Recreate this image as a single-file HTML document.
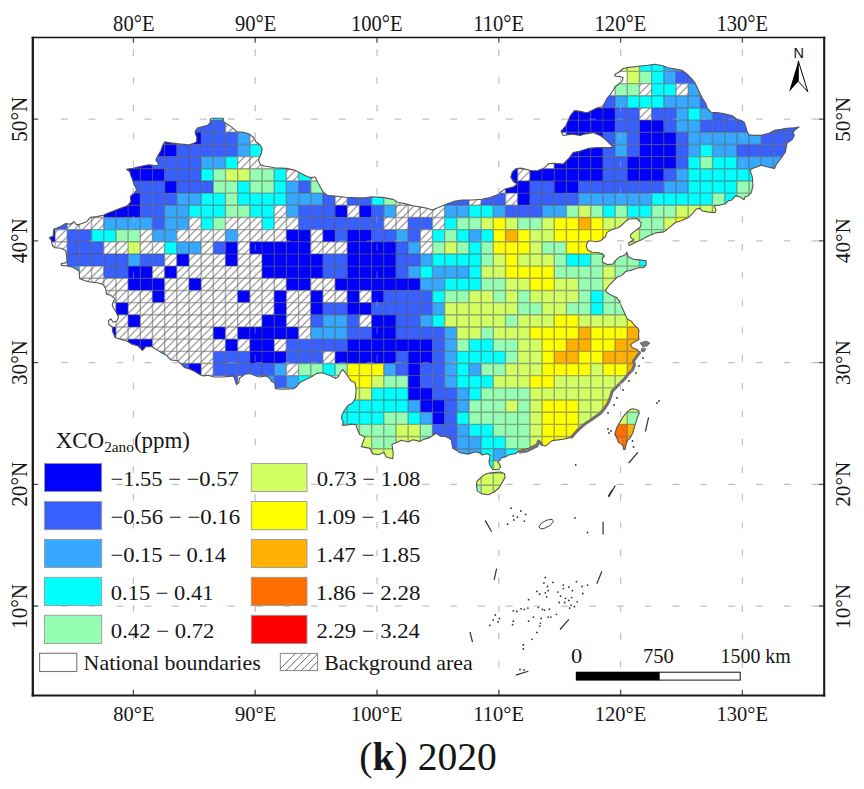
<!DOCTYPE html>
<html><head><meta charset="utf-8"><style>
html,body{margin:0;padding:0;background:#fff;overflow:hidden;}
svg{display:block;}
text{font-family:"Liberation Serif",serif;fill:#161616;}
</style></head><body>
<svg width="864" height="789" viewBox="0 0 864 789">
<defs>
<pattern id="hatch" patternUnits="userSpaceOnUse" width="8.1" height="8.1" patternTransform="translate(4.3 0)">
<rect width="8.1" height="8.1" fill="#fff"/>
<path d="M-2 2L2 -2M0 8.1L8.1 0M6.1 10.1L10.1 6.1" stroke="#7a7a7a" stroke-width="1.0"/>
</pattern>
<clipPath id="cn"><path d="M49.3 237.5 L53.1 236.3 L53.7 229.3 L60.1 226.8 L65.8 223.6 L70.2 224.2 L74.0 221.7 L76.6 224.9 L80.4 224.0 L86.7 221.7 L90.5 217.2 L96.8 216.6 L103.2 215.3 L107.0 213.4 L117.1 209.6 L127.3 205.8 L130.9 201.6 L130.4 196.7 L132.9 193.7 L136.4 190.7 L135.9 187.7 L133.9 184.7 L132.9 180.7 L130.9 175.8 L129.9 171.8 L126.4 169.3 L132.9 168.3 L138.9 166.8 L148.8 164.8 L156.8 165.8 L158.8 164.3 L155.8 159.9 L157.8 155.9 L160.8 150.9 L162.8 144.9 L164.8 141.9 L170.7 142.9 L178.7 143.9 L188.6 144.9 L193.7 143.3 L196.5 141.9 L196.9 137.8 L195.6 134.1 L195.1 131.3 L197.4 128.1 L202.0 126.7 L207.6 125.3 L209.9 123.0 L210.4 119.3 L211.3 118.3 L223.3 118.3 L223.8 122.0 L227.0 123.9 L231.7 127.1 L237.2 131.8 L243.7 132.2 L249.3 134.1 L253.9 137.8 L255.7 141.5 L260.4 145.2 L262.2 148.9 L261.3 153.5 L258.5 160.0 L260.4 164.6 L264.1 166.0 L274.7 167.8 L286.3 168.4 L294.4 170.1 L300.2 173.0 L307.1 176.5 L310.6 177.6 L315.2 177.0 L317.5 181.7 L319.9 186.3 L323.3 192.1 L328.0 195.6 L334.9 196.1 L345.8 197.2 L357.2 197.9 L365.7 197.9 L371.1 196.7 L382.2 197.4 L393.3 199.4 L397.5 202.2 L404.4 203.6 L412.8 205.7 L421.1 207.1 L428.1 208.5 L432.2 209.9 L437.8 207.8 L446.1 204.3 L453.9 201.4 L462.2 200.0 L471.9 200.0 L481.7 199.3 L488.6 197.9 L496.9 195.1 L501.1 191.7 L505.3 188.9 L513.6 186.8 L517.1 184.0 L513.6 181.9 L510.8 177.1 L512.2 172.2 L515.7 168.8 L520.6 168.1 L526.1 169.4 L531.7 170.8 L537.2 170.8 L544.2 168.1 L548.3 163.9 L553.9 163.2 L563.2 164.0 L568.9 158.3 L573.1 152.6 L580.3 151.1 L588.8 148.3 L597.3 147.6 L610.1 147.6 L613.0 146.9 L610.1 144.0 L605.9 139.8 L600.2 135.5 L593.1 132.6 L584.5 134.1 L580.3 135.5 L571.7 134.1 L563.2 135.5 L561.0 131.2 L566.0 125.5 L570.3 115.6 L574.6 110.6 L580.3 111.3 L585.9 112.7 L588.8 112.0 L597.3 107.7 L602.3 106.7 L604.6 103.2 L606.9 98.6 L611.6 92.8 L615.0 87.0 L622.0 81.3 L623.1 77.8 L619.7 76.6 L615.0 76.0 L615.0 74.3 L619.1 72.0 L623.1 68.5 L628.9 67.4 L638.2 66.2 L647.6 65.2 L655.3 64.2 L662.9 65.8 L668.0 67.7 L675.6 69.0 L682.0 70.3 L687.1 74.1 L690.9 77.9 L694.7 82.4 L697.3 87.5 L699.8 93.2 L702.4 98.3 L705.6 103.4 L707.5 108.5 L711.3 112.3 L718.9 112.9 L726.6 114.2 L732.9 116.1 L736.8 119.3 L741.8 120.6 L744.1 122.2 L745.8 126.6 L746.9 131.0 L749.1 134.8 L753.5 135.4 L761.2 135.4 L768.9 133.2 L774.4 130.4 L781.0 129.3 L786.5 128.2 L794.2 127.7 L799.1 127.1 L796.4 128.8 L793.1 132.1 L794.2 135.4 L792.0 139.8 L787.0 143.1 L785.4 151.9 L781.0 158.5 L776.6 164.0 L774.4 168.4 L766.7 166.7 L761.2 165.1 L759.0 166.2 L752.4 168.4 L750.2 170.6 L752.4 177.2 L752.9 186.0 L751.3 192.6 L748.0 195.9 L744.7 197.0 L744.1 199.7 L740.3 197.0 L735.3 195.9 L731.5 200.3 L728.5 200.6 L725.4 203.8 L719.2 205.3 L714.0 205.8 L716.0 209.5 L715.0 212.6 L708.8 212.1 L702.5 211.0 L699.4 208.4 L696.3 209.0 L692.1 214.2 L687.9 217.8 L681.7 220.4 L675.4 222.5 L669.2 227.7 L664.0 231.9 L655.6 232.9 L648.3 236.0 L641.0 240.0 L636.7 241.7 L629.3 245.4 L628.3 243.1 L631.1 241.2 L633.9 239.8 L631.1 238.0 L630.2 235.2 L633.0 232.4 L636.7 229.6 L640.4 226.9 L641.3 223.1 L636.7 218.5 L629.3 219.0 L625.6 221.3 L621.9 225.0 L618.1 227.8 L611.7 229.6 L607.0 232.4 L605.2 237.0 L600.6 240.7 L595.9 241.7 L588.5 240.7 L586.2 245.4 L587.6 250.0 L592.2 252.3 L597.0 252.5 L602.6 253.9 L604.4 256.2 L602.1 259.0 L602.6 262.2 L607.2 264.5 L612.8 264.1 L615.6 260.4 L619.3 257.1 L623.0 255.7 L625.7 254.4 L626.7 252.0 L628.5 257.1 L634.1 259.4 L639.6 259.9 L646.1 260.8 L646.1 265.0 L643.3 267.8 L638.7 267.8 L633.1 269.6 L625.7 271.5 L622.0 275.2 L617.4 277.0 L614.6 279.8 L609.1 285.4 L605.4 290.5 L607.2 292.8 L611.9 295.6 L616.5 297.4 L619.3 301.1 L622.3 308.1 L627.4 319.3 L631.4 321.3 L633.5 324.3 L637.5 327.9 L639.0 330.4 L638.5 334.5 L639.0 339.6 L633.5 342.6 L630.4 344.6 L632.5 347.7 L637.5 349.7 L639.6 352.7 L636.5 356.8 L633.5 360.9 L634.5 364.9 L632.5 370.0 L628.2 374.2 L624.7 378.8 L620.2 383.3 L615.6 387.9 L612.2 391.3 L610.5 397.0 L608.8 401.6 L605.3 407.3 L600.8 413.0 L592.8 418.7 L586.0 423.2 L580.3 427.8 L577.2 430.8 L571.7 437.1 L563.3 439.2 L552.2 440.6 L545.3 446.1 L541.1 444.7 L538.3 440.6 L536.9 444.0 L528.6 448.2 L520.3 450.3 L515.4 453.6 L509.8 454.5 L505.2 456.9 L501.5 457.8 L500.6 459.6 L497.8 461.9 L499.6 464.3 L500.6 467.0 L498.7 469.4 L493.1 469.8 L491.3 467.5 L489.4 464.3 L489.0 460.6 L490.4 455.5 L486.7 453.6 L482.0 455.0 L480.2 453.1 L475.6 451.8 L468.1 454.1 L459.8 452.7 L456.1 449.9 L452.9 448.5 L451.9 443.9 L451.5 440.2 L448.7 437.9 L445.0 436.5 L440.6 436.2 L436.0 433.3 L430.2 437.4 L424.4 439.1 L419.8 441.4 L412.9 439.7 L408.2 442.0 L401.3 440.3 L395.5 443.1 L392.0 444.3 L393.2 453.6 L392.6 458.8 L386.3 457.0 L383.9 452.4 L378.1 454.7 L372.4 453.6 L370.0 448.4 L361.4 446.6 L363.1 442.0 L364.8 436.8 L359.6 434.5 L357.3 429.3 L356.1 424.7 L351.0 424.1 L346.0 425.3 L342.2 425.3 L343.4 422.2 L341.5 418.4 L342.2 414.6 L344.1 410.8 L346.0 408.2 L348.5 405.1 L352.3 403.2 L355.5 398.1 L356.1 389.2 L354.8 382.2 L351.0 381.0 L348.5 377.2 L345.3 372.7 L342.8 369.6 L340.9 371.5 L338.4 376.5 L335.8 378.4 L329.5 375.3 L321.9 372.7 L316.8 373.4 L313.0 375.9 L306.7 379.1 L300.3 382.2 L297.2 386.0 L294.0 388.6 L282.6 389.2 L275.3 388.6 L274.7 382.8 L271.8 381.7 L269.5 378.2 L266.0 375.9 L259.1 377.0 L249.8 373.6 L245.2 374.1 L239.4 378.2 L238.8 382.8 L236.5 384.6 L234.8 379.4 L233.6 375.9 L223.2 377.0 L213.9 377.0 L208.1 375.3 L203.5 375.9 L200.0 374.7 L194.3 371.3 L189.6 368.9 L185.0 367.8 L181.3 364.4 L177.5 360.6 L171.1 360.0 L166.0 354.9 L161.0 352.4 L155.9 349.2 L152.1 346.7 L145.8 346.7 L142.6 350.5 L138.2 346.0 L131.8 344.1 L126.8 341.0 L120.4 339.1 L115.3 337.8 L112.8 332.1 L112.2 327.0 L109.0 324.5 L108.4 320.7 L110.9 318.8 L112.8 322.0 L116.6 321.3 L118.5 317.5 L116.0 311.8 L113.4 308.0 L112.2 304.2 L113.4 301.7 L115.3 299.2 L110.9 295.3 L106.5 294.1 L105.8 289.0 L103.3 284.6 L97.6 282.7 L90.0 282.0 L86.7 281.3 L79.7 278.7 L79.1 271.1 L72.8 267.3 L67.1 266.0 L61.3 265.4 L61.3 263.5 L65.8 262.9 L67.1 261.0 L65.8 250.8 L61.3 248.3 L55.0 247.7 L52.5 245.8 L51.2 240.1Z M476.9 481.4 L482.0 476.3 L486.7 473.5 L493.1 472.6 L500.6 472.1 L504.3 473.5 L505.2 477.2 L502.4 481.9 L498.7 488.3 L494.1 492.0 L488.5 494.8 L482.0 493.9 L477.4 491.1 L476.5 485.6Z M633.5 408.7 L638.8 410.6 L639.2 413.3 L637.3 417.8 L635.0 425.4 L632.7 433.0 L630.4 437.6 L627.4 440.6 L625.9 445.2 L625.1 449.4 L623.6 449.4 L622.8 445.2 L618.3 442.1 L616.7 437.6 L614.8 434.5 L616.7 427.7 L619.8 422.4 L622.8 417.1 L627.4 411.7 L630.4 409.4Z"/></clipPath>
<clipPath id="ocn"><path clip-rule="evenodd" d="M0 0H864V789H0Z M49.3 237.5 L53.1 236.3 L53.7 229.3 L60.1 226.8 L65.8 223.6 L70.2 224.2 L74.0 221.7 L76.6 224.9 L80.4 224.0 L86.7 221.7 L90.5 217.2 L96.8 216.6 L103.2 215.3 L107.0 213.4 L117.1 209.6 L127.3 205.8 L130.9 201.6 L130.4 196.7 L132.9 193.7 L136.4 190.7 L135.9 187.7 L133.9 184.7 L132.9 180.7 L130.9 175.8 L129.9 171.8 L126.4 169.3 L132.9 168.3 L138.9 166.8 L148.8 164.8 L156.8 165.8 L158.8 164.3 L155.8 159.9 L157.8 155.9 L160.8 150.9 L162.8 144.9 L164.8 141.9 L170.7 142.9 L178.7 143.9 L188.6 144.9 L193.7 143.3 L196.5 141.9 L196.9 137.8 L195.6 134.1 L195.1 131.3 L197.4 128.1 L202.0 126.7 L207.6 125.3 L209.9 123.0 L210.4 119.3 L211.3 118.3 L223.3 118.3 L223.8 122.0 L227.0 123.9 L231.7 127.1 L237.2 131.8 L243.7 132.2 L249.3 134.1 L253.9 137.8 L255.7 141.5 L260.4 145.2 L262.2 148.9 L261.3 153.5 L258.5 160.0 L260.4 164.6 L264.1 166.0 L274.7 167.8 L286.3 168.4 L294.4 170.1 L300.2 173.0 L307.1 176.5 L310.6 177.6 L315.2 177.0 L317.5 181.7 L319.9 186.3 L323.3 192.1 L328.0 195.6 L334.9 196.1 L345.8 197.2 L357.2 197.9 L365.7 197.9 L371.1 196.7 L382.2 197.4 L393.3 199.4 L397.5 202.2 L404.4 203.6 L412.8 205.7 L421.1 207.1 L428.1 208.5 L432.2 209.9 L437.8 207.8 L446.1 204.3 L453.9 201.4 L462.2 200.0 L471.9 200.0 L481.7 199.3 L488.6 197.9 L496.9 195.1 L501.1 191.7 L505.3 188.9 L513.6 186.8 L517.1 184.0 L513.6 181.9 L510.8 177.1 L512.2 172.2 L515.7 168.8 L520.6 168.1 L526.1 169.4 L531.7 170.8 L537.2 170.8 L544.2 168.1 L548.3 163.9 L553.9 163.2 L563.2 164.0 L568.9 158.3 L573.1 152.6 L580.3 151.1 L588.8 148.3 L597.3 147.6 L610.1 147.6 L613.0 146.9 L610.1 144.0 L605.9 139.8 L600.2 135.5 L593.1 132.6 L584.5 134.1 L580.3 135.5 L571.7 134.1 L563.2 135.5 L561.0 131.2 L566.0 125.5 L570.3 115.6 L574.6 110.6 L580.3 111.3 L585.9 112.7 L588.8 112.0 L597.3 107.7 L602.3 106.7 L604.6 103.2 L606.9 98.6 L611.6 92.8 L615.0 87.0 L622.0 81.3 L623.1 77.8 L619.7 76.6 L615.0 76.0 L615.0 74.3 L619.1 72.0 L623.1 68.5 L628.9 67.4 L638.2 66.2 L647.6 65.2 L655.3 64.2 L662.9 65.8 L668.0 67.7 L675.6 69.0 L682.0 70.3 L687.1 74.1 L690.9 77.9 L694.7 82.4 L697.3 87.5 L699.8 93.2 L702.4 98.3 L705.6 103.4 L707.5 108.5 L711.3 112.3 L718.9 112.9 L726.6 114.2 L732.9 116.1 L736.8 119.3 L741.8 120.6 L744.1 122.2 L745.8 126.6 L746.9 131.0 L749.1 134.8 L753.5 135.4 L761.2 135.4 L768.9 133.2 L774.4 130.4 L781.0 129.3 L786.5 128.2 L794.2 127.7 L799.1 127.1 L796.4 128.8 L793.1 132.1 L794.2 135.4 L792.0 139.8 L787.0 143.1 L785.4 151.9 L781.0 158.5 L776.6 164.0 L774.4 168.4 L766.7 166.7 L761.2 165.1 L759.0 166.2 L752.4 168.4 L750.2 170.6 L752.4 177.2 L752.9 186.0 L751.3 192.6 L748.0 195.9 L744.7 197.0 L744.1 199.7 L740.3 197.0 L735.3 195.9 L731.5 200.3 L728.5 200.6 L725.4 203.8 L719.2 205.3 L714.0 205.8 L716.0 209.5 L715.0 212.6 L708.8 212.1 L702.5 211.0 L699.4 208.4 L696.3 209.0 L692.1 214.2 L687.9 217.8 L681.7 220.4 L675.4 222.5 L669.2 227.7 L664.0 231.9 L655.6 232.9 L648.3 236.0 L641.0 240.0 L636.7 241.7 L629.3 245.4 L628.3 243.1 L631.1 241.2 L633.9 239.8 L631.1 238.0 L630.2 235.2 L633.0 232.4 L636.7 229.6 L640.4 226.9 L641.3 223.1 L636.7 218.5 L629.3 219.0 L625.6 221.3 L621.9 225.0 L618.1 227.8 L611.7 229.6 L607.0 232.4 L605.2 237.0 L600.6 240.7 L595.9 241.7 L588.5 240.7 L586.2 245.4 L587.6 250.0 L592.2 252.3 L597.0 252.5 L602.6 253.9 L604.4 256.2 L602.1 259.0 L602.6 262.2 L607.2 264.5 L612.8 264.1 L615.6 260.4 L619.3 257.1 L623.0 255.7 L625.7 254.4 L626.7 252.0 L628.5 257.1 L634.1 259.4 L639.6 259.9 L646.1 260.8 L646.1 265.0 L643.3 267.8 L638.7 267.8 L633.1 269.6 L625.7 271.5 L622.0 275.2 L617.4 277.0 L614.6 279.8 L609.1 285.4 L605.4 290.5 L607.2 292.8 L611.9 295.6 L616.5 297.4 L619.3 301.1 L622.3 308.1 L627.4 319.3 L631.4 321.3 L633.5 324.3 L637.5 327.9 L639.0 330.4 L638.5 334.5 L639.0 339.6 L633.5 342.6 L630.4 344.6 L632.5 347.7 L637.5 349.7 L639.6 352.7 L636.5 356.8 L633.5 360.9 L634.5 364.9 L632.5 370.0 L628.2 374.2 L624.7 378.8 L620.2 383.3 L615.6 387.9 L612.2 391.3 L610.5 397.0 L608.8 401.6 L605.3 407.3 L600.8 413.0 L592.8 418.7 L586.0 423.2 L580.3 427.8 L577.2 430.8 L571.7 437.1 L563.3 439.2 L552.2 440.6 L545.3 446.1 L541.1 444.7 L538.3 440.6 L536.9 444.0 L528.6 448.2 L520.3 450.3 L515.4 453.6 L509.8 454.5 L505.2 456.9 L501.5 457.8 L500.6 459.6 L497.8 461.9 L499.6 464.3 L500.6 467.0 L498.7 469.4 L493.1 469.8 L491.3 467.5 L489.4 464.3 L489.0 460.6 L490.4 455.5 L486.7 453.6 L482.0 455.0 L480.2 453.1 L475.6 451.8 L468.1 454.1 L459.8 452.7 L456.1 449.9 L452.9 448.5 L451.9 443.9 L451.5 440.2 L448.7 437.9 L445.0 436.5 L440.6 436.2 L436.0 433.3 L430.2 437.4 L424.4 439.1 L419.8 441.4 L412.9 439.7 L408.2 442.0 L401.3 440.3 L395.5 443.1 L392.0 444.3 L393.2 453.6 L392.6 458.8 L386.3 457.0 L383.9 452.4 L378.1 454.7 L372.4 453.6 L370.0 448.4 L361.4 446.6 L363.1 442.0 L364.8 436.8 L359.6 434.5 L357.3 429.3 L356.1 424.7 L351.0 424.1 L346.0 425.3 L342.2 425.3 L343.4 422.2 L341.5 418.4 L342.2 414.6 L344.1 410.8 L346.0 408.2 L348.5 405.1 L352.3 403.2 L355.5 398.1 L356.1 389.2 L354.8 382.2 L351.0 381.0 L348.5 377.2 L345.3 372.7 L342.8 369.6 L340.9 371.5 L338.4 376.5 L335.8 378.4 L329.5 375.3 L321.9 372.7 L316.8 373.4 L313.0 375.9 L306.7 379.1 L300.3 382.2 L297.2 386.0 L294.0 388.6 L282.6 389.2 L275.3 388.6 L274.7 382.8 L271.8 381.7 L269.5 378.2 L266.0 375.9 L259.1 377.0 L249.8 373.6 L245.2 374.1 L239.4 378.2 L238.8 382.8 L236.5 384.6 L234.8 379.4 L233.6 375.9 L223.2 377.0 L213.9 377.0 L208.1 375.3 L203.5 375.9 L200.0 374.7 L194.3 371.3 L189.6 368.9 L185.0 367.8 L181.3 364.4 L177.5 360.6 L171.1 360.0 L166.0 354.9 L161.0 352.4 L155.9 349.2 L152.1 346.7 L145.8 346.7 L142.6 350.5 L138.2 346.0 L131.8 344.1 L126.8 341.0 L120.4 339.1 L115.3 337.8 L112.8 332.1 L112.2 327.0 L109.0 324.5 L108.4 320.7 L110.9 318.8 L112.8 322.0 L116.6 321.3 L118.5 317.5 L116.0 311.8 L113.4 308.0 L112.2 304.2 L113.4 301.7 L115.3 299.2 L110.9 295.3 L106.5 294.1 L105.8 289.0 L103.3 284.6 L97.6 282.7 L90.0 282.0 L86.7 281.3 L79.7 278.7 L79.1 271.1 L72.8 267.3 L67.1 266.0 L61.3 265.4 L61.3 263.5 L65.8 262.9 L67.1 261.0 L65.8 250.8 L61.3 248.3 L55.0 247.7 L52.5 245.8 L51.2 240.1Z M476.9 481.4 L482.0 476.3 L486.7 473.5 L493.1 472.6 L500.6 472.1 L504.3 473.5 L505.2 477.2 L502.4 481.9 L498.7 488.3 L494.1 492.0 L488.5 494.8 L482.0 493.9 L477.4 491.1 L476.5 485.6Z M633.5 408.7 L638.8 410.6 L639.2 413.3 L637.3 417.8 L635.0 425.4 L632.7 433.0 L630.4 437.6 L627.4 440.6 L625.9 445.2 L625.1 449.4 L623.6 449.4 L622.8 445.2 L618.3 442.1 L616.7 437.6 L614.8 434.5 L616.7 427.7 L619.8 422.4 L622.8 417.1 L627.4 411.7 L630.4 409.4Z"/></clipPath>
</defs>
<rect width="864" height="789" fill="#fff"/>
<g clip-path="url(#cn)">
<rect x="627.27" y="59.25" width="12.175" height="12.170" fill="#D2FF64"/><rect x="639.45" y="59.25" width="12.175" height="12.170" fill="#00FFFF"/><rect x="651.62" y="59.25" width="12.175" height="12.170" fill="#00FFFF"/><rect x="663.80" y="59.25" width="12.175" height="12.170" fill="#36A8FF"/><rect x="675.98" y="59.25" width="12.175" height="12.170" fill="#36A8FF"/><rect x="688.15" y="59.25" width="12.175" height="12.170" fill="#3860FF"/><rect x="615.10" y="59.25" width="12.175" height="12.170" fill="#D2FF64"/><rect x="627.27" y="71.42" width="12.175" height="12.170" fill="#D2FF64"/><rect x="639.45" y="71.42" width="12.175" height="12.170" fill="#95FEB3"/><rect x="651.62" y="71.42" width="12.175" height="12.170" fill="#00FFFF"/><rect x="663.80" y="71.42" width="12.175" height="12.170" fill="#36A8FF"/><rect x="675.98" y="71.42" width="12.175" height="12.170" fill="#3860FF"/><rect x="688.15" y="71.42" width="12.175" height="12.170" fill="#3860FF"/><rect x="615.10" y="83.59" width="12.175" height="12.170" fill="#95FEB3"/><rect x="627.27" y="83.59" width="12.175" height="12.170" fill="#95FEB3"/><rect x="639.45" y="83.59" width="12.175" height="12.170" fill="url(#hatch)"/><rect x="651.62" y="83.59" width="12.175" height="12.170" fill="#00FFFF"/><rect x="663.80" y="83.59" width="12.175" height="12.170" fill="#00FFFF"/><rect x="675.98" y="83.59" width="12.175" height="12.170" fill="url(#hatch)"/><rect x="688.15" y="83.59" width="12.175" height="12.170" fill="#36A8FF"/><rect x="602.93" y="95.76" width="12.175" height="12.170" fill="#3860FF"/><rect x="615.10" y="95.76" width="12.175" height="12.170" fill="#36A8FF"/><rect x="627.27" y="95.76" width="12.175" height="12.170" fill="#00FFFF"/><rect x="639.45" y="95.76" width="12.175" height="12.170" fill="#00FFFF"/><rect x="651.62" y="95.76" width="12.175" height="12.170" fill="#00FFFF"/><rect x="663.80" y="95.76" width="12.175" height="12.170" fill="#36A8FF"/><rect x="675.98" y="95.76" width="12.175" height="12.170" fill="#36A8FF"/><rect x="688.15" y="95.76" width="12.175" height="12.170" fill="#36A8FF"/><rect x="700.33" y="95.76" width="12.175" height="12.170" fill="#3860FF"/><rect x="213.32" y="107.93" width="12.175" height="12.170" fill="#00FFFF"/><rect x="566.40" y="107.93" width="12.175" height="12.170" fill="#0000FF"/><rect x="578.58" y="107.93" width="12.175" height="12.170" fill="#0000FF"/><rect x="590.75" y="107.93" width="12.175" height="12.170" fill="#0000FF"/><rect x="602.93" y="107.93" width="12.175" height="12.170" fill="#0000FF"/><rect x="615.10" y="107.93" width="12.175" height="12.170" fill="#3860FF"/><rect x="627.27" y="107.93" width="12.175" height="12.170" fill="#3860FF"/><rect x="639.45" y="107.93" width="12.175" height="12.170" fill="url(#hatch)"/><rect x="651.62" y="107.93" width="12.175" height="12.170" fill="#3860FF"/><rect x="663.80" y="107.93" width="12.175" height="12.170" fill="#3860FF"/><rect x="675.98" y="107.93" width="12.175" height="12.170" fill="#36A8FF"/><rect x="688.15" y="107.93" width="12.175" height="12.170" fill="#00FFFF"/><rect x="700.33" y="107.93" width="12.175" height="12.170" fill="#36A8FF"/><rect x="712.50" y="107.93" width="12.175" height="12.170" fill="#3860FF"/><rect x="724.68" y="107.93" width="12.175" height="12.170" fill="#3860FF"/><rect x="188.97" y="120.10" width="12.175" height="12.170" fill="#3860FF"/><rect x="201.15" y="120.10" width="12.175" height="12.170" fill="#3860FF"/><rect x="213.32" y="120.10" width="12.175" height="12.170" fill="#3860FF"/><rect x="225.50" y="120.10" width="12.175" height="12.170" fill="url(#hatch)"/><rect x="554.23" y="120.10" width="12.175" height="12.170" fill="#0000FF"/><rect x="566.40" y="120.10" width="12.175" height="12.170" fill="#0000FF"/><rect x="578.58" y="120.10" width="12.175" height="12.170" fill="#0000FF"/><rect x="590.75" y="120.10" width="12.175" height="12.170" fill="#0000FF"/><rect x="602.93" y="120.10" width="12.175" height="12.170" fill="#0000FF"/><rect x="615.10" y="120.10" width="12.175" height="12.170" fill="#3860FF"/><rect x="627.27" y="120.10" width="12.175" height="12.170" fill="#3860FF"/><rect x="639.45" y="120.10" width="12.175" height="12.170" fill="#0000FF"/><rect x="651.62" y="120.10" width="12.175" height="12.170" fill="#0000FF"/><rect x="663.80" y="120.10" width="12.175" height="12.170" fill="#3860FF"/><rect x="675.98" y="120.10" width="12.175" height="12.170" fill="#36A8FF"/><rect x="688.15" y="120.10" width="12.175" height="12.170" fill="#36A8FF"/><rect x="700.33" y="120.10" width="12.175" height="12.170" fill="#3860FF"/><rect x="712.50" y="120.10" width="12.175" height="12.170" fill="#3860FF"/><rect x="724.68" y="120.10" width="12.175" height="12.170" fill="#3860FF"/><rect x="736.85" y="120.10" width="12.175" height="12.170" fill="#3860FF"/><rect x="749.03" y="120.10" width="12.175" height="12.170" fill="#3860FF"/><rect x="761.20" y="120.10" width="12.175" height="12.170" fill="#3860FF"/><rect x="773.38" y="120.10" width="12.175" height="12.170" fill="#3860FF"/><rect x="785.55" y="120.10" width="12.175" height="12.170" fill="#3860FF"/><rect x="797.73" y="120.10" width="12.175" height="12.170" fill="#3860FF"/><rect x="188.97" y="132.27" width="12.175" height="12.170" fill="#0000FF"/><rect x="201.15" y="132.27" width="12.175" height="12.170" fill="#3860FF"/><rect x="213.32" y="132.27" width="12.175" height="12.170" fill="#3860FF"/><rect x="225.50" y="132.27" width="12.175" height="12.170" fill="#3860FF"/><rect x="237.68" y="132.27" width="12.175" height="12.170" fill="#36A8FF"/><rect x="249.85" y="132.27" width="12.175" height="12.170" fill="url(#hatch)"/><rect x="566.40" y="132.27" width="12.175" height="12.170" fill="#0000FF"/><rect x="578.58" y="132.27" width="12.175" height="12.170" fill="#0000FF"/><rect x="590.75" y="132.27" width="12.175" height="12.170" fill="#0000FF"/><rect x="602.93" y="132.27" width="12.175" height="12.170" fill="#3860FF"/><rect x="615.10" y="132.27" width="12.175" height="12.170" fill="#36A8FF"/><rect x="627.27" y="132.27" width="12.175" height="12.170" fill="#3860FF"/><rect x="639.45" y="132.27" width="12.175" height="12.170" fill="#0000FF"/><rect x="651.62" y="132.27" width="12.175" height="12.170" fill="#0000FF"/><rect x="663.80" y="132.27" width="12.175" height="12.170" fill="#0000FF"/><rect x="675.98" y="132.27" width="12.175" height="12.170" fill="#3860FF"/><rect x="688.15" y="132.27" width="12.175" height="12.170" fill="#36A8FF"/><rect x="700.33" y="132.27" width="12.175" height="12.170" fill="#36A8FF"/><rect x="712.50" y="132.27" width="12.175" height="12.170" fill="#36A8FF"/><rect x="724.68" y="132.27" width="12.175" height="12.170" fill="#36A8FF"/><rect x="736.85" y="132.27" width="12.175" height="12.170" fill="#36A8FF"/><rect x="749.03" y="132.27" width="12.175" height="12.170" fill="#36A8FF"/><rect x="761.20" y="132.27" width="12.175" height="12.170" fill="#3860FF"/><rect x="773.38" y="132.27" width="12.175" height="12.170" fill="#3860FF"/><rect x="785.55" y="132.27" width="12.175" height="12.170" fill="#3860FF"/><rect x="797.73" y="132.27" width="12.175" height="12.170" fill="#3860FF"/><rect x="164.62" y="132.27" width="12.175" height="12.170" fill="#0000FF"/><rect x="152.45" y="144.44" width="12.175" height="12.170" fill="#0000FF"/><rect x="164.62" y="144.44" width="12.175" height="12.170" fill="#0000FF"/><rect x="176.80" y="144.44" width="12.175" height="12.170" fill="#3860FF"/><rect x="188.97" y="144.44" width="12.175" height="12.170" fill="#3860FF"/><rect x="201.15" y="144.44" width="12.175" height="12.170" fill="#3860FF"/><rect x="213.32" y="144.44" width="12.175" height="12.170" fill="#3860FF"/><rect x="225.50" y="144.44" width="12.175" height="12.170" fill="#3860FF"/><rect x="237.68" y="144.44" width="12.175" height="12.170" fill="#36A8FF"/><rect x="249.85" y="144.44" width="12.175" height="12.170" fill="#00FFFF"/><rect x="566.40" y="144.44" width="12.175" height="12.170" fill="#0000FF"/><rect x="578.58" y="144.44" width="12.175" height="12.170" fill="#0000FF"/><rect x="590.75" y="144.44" width="12.175" height="12.170" fill="#0000FF"/><rect x="602.93" y="144.44" width="12.175" height="12.170" fill="#3860FF"/><rect x="615.10" y="144.44" width="12.175" height="12.170" fill="#36A8FF"/><rect x="627.27" y="144.44" width="12.175" height="12.170" fill="#3860FF"/><rect x="639.45" y="144.44" width="12.175" height="12.170" fill="#0000FF"/><rect x="651.62" y="144.44" width="12.175" height="12.170" fill="#0000FF"/><rect x="663.80" y="144.44" width="12.175" height="12.170" fill="#0000FF"/><rect x="675.98" y="144.44" width="12.175" height="12.170" fill="#3860FF"/><rect x="688.15" y="144.44" width="12.175" height="12.170" fill="#36A8FF"/><rect x="700.33" y="144.44" width="12.175" height="12.170" fill="#00FFFF"/><rect x="712.50" y="144.44" width="12.175" height="12.170" fill="#36A8FF"/><rect x="724.68" y="144.44" width="12.175" height="12.170" fill="#36A8FF"/><rect x="736.85" y="144.44" width="12.175" height="12.170" fill="#3860FF"/><rect x="749.03" y="144.44" width="12.175" height="12.170" fill="#3860FF"/><rect x="761.20" y="144.44" width="12.175" height="12.170" fill="#3860FF"/><rect x="773.38" y="144.44" width="12.175" height="12.170" fill="#3860FF"/><rect x="785.55" y="144.44" width="12.175" height="12.170" fill="#3860FF"/><rect x="152.45" y="156.61" width="12.175" height="12.170" fill="#3860FF"/><rect x="164.62" y="156.61" width="12.175" height="12.170" fill="#3860FF"/><rect x="176.80" y="156.61" width="12.175" height="12.170" fill="#3860FF"/><rect x="188.97" y="156.61" width="12.175" height="12.170" fill="#3860FF"/><rect x="201.15" y="156.61" width="12.175" height="12.170" fill="#36A8FF"/><rect x="213.32" y="156.61" width="12.175" height="12.170" fill="#36A8FF"/><rect x="225.50" y="156.61" width="12.175" height="12.170" fill="#00FFFF"/><rect x="237.68" y="156.61" width="12.175" height="12.170" fill="url(#hatch)"/><rect x="249.85" y="156.61" width="12.175" height="12.170" fill="url(#hatch)"/><rect x="554.23" y="156.61" width="12.175" height="12.170" fill="#0000FF"/><rect x="566.40" y="156.61" width="12.175" height="12.170" fill="#0000FF"/><rect x="578.58" y="156.61" width="12.175" height="12.170" fill="#0000FF"/><rect x="590.75" y="156.61" width="12.175" height="12.170" fill="#0000FF"/><rect x="602.93" y="156.61" width="12.175" height="12.170" fill="#3860FF"/><rect x="615.10" y="156.61" width="12.175" height="12.170" fill="#3860FF"/><rect x="627.27" y="156.61" width="12.175" height="12.170" fill="#0000FF"/><rect x="639.45" y="156.61" width="12.175" height="12.170" fill="#0000FF"/><rect x="651.62" y="156.61" width="12.175" height="12.170" fill="#0000FF"/><rect x="663.80" y="156.61" width="12.175" height="12.170" fill="#0000FF"/><rect x="675.98" y="156.61" width="12.175" height="12.170" fill="#3860FF"/><rect x="688.15" y="156.61" width="12.175" height="12.170" fill="#00FFFF"/><rect x="700.33" y="156.61" width="12.175" height="12.170" fill="#95FEB3"/><rect x="712.50" y="156.61" width="12.175" height="12.170" fill="#00FFFF"/><rect x="724.68" y="156.61" width="12.175" height="12.170" fill="#00FFFF"/><rect x="736.85" y="156.61" width="12.175" height="12.170" fill="#36A8FF"/><rect x="749.03" y="156.61" width="12.175" height="12.170" fill="#36A8FF"/><rect x="761.20" y="156.61" width="12.175" height="12.170" fill="#36A8FF"/><rect x="773.38" y="156.61" width="12.175" height="12.170" fill="#36A8FF"/><rect x="115.92" y="156.61" width="12.175" height="12.170" fill="#0000FF"/><rect x="128.10" y="156.61" width="12.175" height="12.170" fill="#0000FF"/><rect x="140.28" y="156.61" width="12.175" height="12.170" fill="#0000FF"/><rect x="115.92" y="168.78" width="12.175" height="12.170" fill="#0000FF"/><rect x="128.10" y="168.78" width="12.175" height="12.170" fill="#0000FF"/><rect x="140.28" y="168.78" width="12.175" height="12.170" fill="#0000FF"/><rect x="152.45" y="168.78" width="12.175" height="12.170" fill="#0000FF"/><rect x="164.62" y="168.78" width="12.175" height="12.170" fill="#3860FF"/><rect x="176.80" y="168.78" width="12.175" height="12.170" fill="#3860FF"/><rect x="188.97" y="168.78" width="12.175" height="12.170" fill="#3860FF"/><rect x="201.15" y="168.78" width="12.175" height="12.170" fill="#00FFFF"/><rect x="213.32" y="168.78" width="12.175" height="12.170" fill="#95FEB3"/><rect x="225.50" y="168.78" width="12.175" height="12.170" fill="#D2FF64"/><rect x="237.68" y="168.78" width="12.175" height="12.170" fill="#D2FF64"/><rect x="249.85" y="168.78" width="12.175" height="12.170" fill="#95FEB3"/><rect x="262.02" y="168.78" width="12.175" height="12.170" fill="#95FEB3"/><rect x="274.20" y="168.78" width="12.175" height="12.170" fill="#00FFFF"/><rect x="286.38" y="168.78" width="12.175" height="12.170" fill="url(#hatch)"/><rect x="298.55" y="168.78" width="12.175" height="12.170" fill="#00FFFF"/><rect x="310.73" y="168.78" width="12.175" height="12.170" fill="url(#hatch)"/><rect x="505.52" y="168.78" width="12.175" height="12.170" fill="#0000FF"/><rect x="517.70" y="168.78" width="12.175" height="12.170" fill="url(#hatch)"/><rect x="529.88" y="168.78" width="12.175" height="12.170" fill="#0000FF"/><rect x="542.05" y="168.78" width="12.175" height="12.170" fill="#0000FF"/><rect x="554.23" y="168.78" width="12.175" height="12.170" fill="#0000FF"/><rect x="566.40" y="168.78" width="12.175" height="12.170" fill="#0000FF"/><rect x="578.58" y="168.78" width="12.175" height="12.170" fill="#0000FF"/><rect x="590.75" y="168.78" width="12.175" height="12.170" fill="#0000FF"/><rect x="602.93" y="168.78" width="12.175" height="12.170" fill="#3860FF"/><rect x="615.10" y="168.78" width="12.175" height="12.170" fill="#3860FF"/><rect x="627.27" y="168.78" width="12.175" height="12.170" fill="#0000FF"/><rect x="639.45" y="168.78" width="12.175" height="12.170" fill="#0000FF"/><rect x="651.62" y="168.78" width="12.175" height="12.170" fill="#0000FF"/><rect x="663.80" y="168.78" width="12.175" height="12.170" fill="#3860FF"/><rect x="675.98" y="168.78" width="12.175" height="12.170" fill="#36A8FF"/><rect x="688.15" y="168.78" width="12.175" height="12.170" fill="#00FFFF"/><rect x="700.33" y="168.78" width="12.175" height="12.170" fill="#00FFFF"/><rect x="712.50" y="168.78" width="12.175" height="12.170" fill="#00FFFF"/><rect x="724.68" y="168.78" width="12.175" height="12.170" fill="#00FFFF"/><rect x="736.85" y="168.78" width="12.175" height="12.170" fill="#00FFFF"/><rect x="749.03" y="168.78" width="12.175" height="12.170" fill="#00FFFF"/><rect x="128.10" y="180.95" width="12.175" height="12.170" fill="#3860FF"/><rect x="140.28" y="180.95" width="12.175" height="12.170" fill="#3860FF"/><rect x="152.45" y="180.95" width="12.175" height="12.170" fill="#3860FF"/><rect x="164.62" y="180.95" width="12.175" height="12.170" fill="#0000FF"/><rect x="176.80" y="180.95" width="12.175" height="12.170" fill="#3860FF"/><rect x="188.97" y="180.95" width="12.175" height="12.170" fill="#3860FF"/><rect x="201.15" y="180.95" width="12.175" height="12.170" fill="#3860FF"/><rect x="213.32" y="180.95" width="12.175" height="12.170" fill="#95FEB3"/><rect x="225.50" y="180.95" width="12.175" height="12.170" fill="#95FEB3"/><rect x="237.68" y="180.95" width="12.175" height="12.170" fill="#00FFFF"/><rect x="249.85" y="180.95" width="12.175" height="12.170" fill="#95FEB3"/><rect x="262.02" y="180.95" width="12.175" height="12.170" fill="#95FEB3"/><rect x="274.20" y="180.95" width="12.175" height="12.170" fill="#00FFFF"/><rect x="286.38" y="180.95" width="12.175" height="12.170" fill="#36A8FF"/><rect x="298.55" y="180.95" width="12.175" height="12.170" fill="#3860FF"/><rect x="310.73" y="180.95" width="12.175" height="12.170" fill="#95FEB3"/><rect x="505.52" y="180.95" width="12.175" height="12.170" fill="#0000FF"/><rect x="517.70" y="180.95" width="12.175" height="12.170" fill="#0000FF"/><rect x="529.88" y="180.95" width="12.175" height="12.170" fill="#3860FF"/><rect x="542.05" y="180.95" width="12.175" height="12.170" fill="#3860FF"/><rect x="554.23" y="180.95" width="12.175" height="12.170" fill="#0000FF"/><rect x="566.40" y="180.95" width="12.175" height="12.170" fill="#0000FF"/><rect x="578.58" y="180.95" width="12.175" height="12.170" fill="#3860FF"/><rect x="590.75" y="180.95" width="12.175" height="12.170" fill="#3860FF"/><rect x="602.93" y="180.95" width="12.175" height="12.170" fill="#3860FF"/><rect x="615.10" y="180.95" width="12.175" height="12.170" fill="#3860FF"/><rect x="627.27" y="180.95" width="12.175" height="12.170" fill="#3860FF"/><rect x="639.45" y="180.95" width="12.175" height="12.170" fill="#3860FF"/><rect x="651.62" y="180.95" width="12.175" height="12.170" fill="#3860FF"/><rect x="663.80" y="180.95" width="12.175" height="12.170" fill="#36A8FF"/><rect x="675.98" y="180.95" width="12.175" height="12.170" fill="#36A8FF"/><rect x="688.15" y="180.95" width="12.175" height="12.170" fill="#00FFFF"/><rect x="700.33" y="180.95" width="12.175" height="12.170" fill="#00FFFF"/><rect x="712.50" y="180.95" width="12.175" height="12.170" fill="#00FFFF"/><rect x="724.68" y="180.95" width="12.175" height="12.170" fill="#00FFFF"/><rect x="736.85" y="180.95" width="12.175" height="12.170" fill="#95FEB3"/><rect x="749.03" y="180.95" width="12.175" height="12.170" fill="#95FEB3"/><rect x="128.10" y="193.12" width="12.175" height="12.170" fill="#0000FF"/><rect x="140.28" y="193.12" width="12.175" height="12.170" fill="#3860FF"/><rect x="152.45" y="193.12" width="12.175" height="12.170" fill="#3860FF"/><rect x="164.62" y="193.12" width="12.175" height="12.170" fill="#3860FF"/><rect x="176.80" y="193.12" width="12.175" height="12.170" fill="#36A8FF"/><rect x="188.97" y="193.12" width="12.175" height="12.170" fill="#36A8FF"/><rect x="201.15" y="193.12" width="12.175" height="12.170" fill="#00FFFF"/><rect x="213.32" y="193.12" width="12.175" height="12.170" fill="#00FFFF"/><rect x="225.50" y="193.12" width="12.175" height="12.170" fill="#95FEB3"/><rect x="237.68" y="193.12" width="12.175" height="12.170" fill="#00FFFF"/><rect x="249.85" y="193.12" width="12.175" height="12.170" fill="#00FFFF"/><rect x="262.02" y="193.12" width="12.175" height="12.170" fill="#00FFFF"/><rect x="274.20" y="193.12" width="12.175" height="12.170" fill="#00FFFF"/><rect x="286.38" y="193.12" width="12.175" height="12.170" fill="#36A8FF"/><rect x="298.55" y="193.12" width="12.175" height="12.170" fill="#36A8FF"/><rect x="310.73" y="193.12" width="12.175" height="12.170" fill="#36A8FF"/><rect x="322.90" y="193.12" width="12.175" height="12.170" fill="#3860FF"/><rect x="335.08" y="193.12" width="12.175" height="12.170" fill="url(#hatch)"/><rect x="347.25" y="193.12" width="12.175" height="12.170" fill="#3860FF"/><rect x="359.43" y="193.12" width="12.175" height="12.170" fill="#3860FF"/><rect x="371.60" y="193.12" width="12.175" height="12.170" fill="#00FFFF"/><rect x="383.77" y="193.12" width="12.175" height="12.170" fill="#95FEB3"/><rect x="395.95" y="193.12" width="12.175" height="12.170" fill="url(#hatch)"/><rect x="408.12" y="193.12" width="12.175" height="12.170" fill="url(#hatch)"/><rect x="444.65" y="193.12" width="12.175" height="12.170" fill="#3860FF"/><rect x="456.83" y="193.12" width="12.175" height="12.170" fill="#3860FF"/><rect x="469.00" y="193.12" width="12.175" height="12.170" fill="url(#hatch)"/><rect x="481.18" y="193.12" width="12.175" height="12.170" fill="#3860FF"/><rect x="493.35" y="193.12" width="12.175" height="12.170" fill="#3860FF"/><rect x="505.52" y="193.12" width="12.175" height="12.170" fill="url(#hatch)"/><rect x="517.70" y="193.12" width="12.175" height="12.170" fill="#0000FF"/><rect x="529.88" y="193.12" width="12.175" height="12.170" fill="#3860FF"/><rect x="542.05" y="193.12" width="12.175" height="12.170" fill="#3860FF"/><rect x="554.23" y="193.12" width="12.175" height="12.170" fill="#3860FF"/><rect x="566.40" y="193.12" width="12.175" height="12.170" fill="#3860FF"/><rect x="578.58" y="193.12" width="12.175" height="12.170" fill="#36A8FF"/><rect x="590.75" y="193.12" width="12.175" height="12.170" fill="#36A8FF"/><rect x="602.93" y="193.12" width="12.175" height="12.170" fill="#36A8FF"/><rect x="615.10" y="193.12" width="12.175" height="12.170" fill="#36A8FF"/><rect x="627.27" y="193.12" width="12.175" height="12.170" fill="#36A8FF"/><rect x="639.45" y="193.12" width="12.175" height="12.170" fill="#36A8FF"/><rect x="651.62" y="193.12" width="12.175" height="12.170" fill="#00FFFF"/><rect x="663.80" y="193.12" width="12.175" height="12.170" fill="#00FFFF"/><rect x="675.98" y="193.12" width="12.175" height="12.170" fill="#00FFFF"/><rect x="688.15" y="193.12" width="12.175" height="12.170" fill="#00FFFF"/><rect x="700.33" y="193.12" width="12.175" height="12.170" fill="#00FFFF"/><rect x="712.50" y="193.12" width="12.175" height="12.170" fill="#95FEB3"/><rect x="724.68" y="193.12" width="12.175" height="12.170" fill="#00FFFF"/><rect x="736.85" y="193.12" width="12.175" height="12.170" fill="#95FEB3"/><rect x="103.75" y="205.29" width="12.175" height="12.170" fill="#0000FF"/><rect x="115.92" y="205.29" width="12.175" height="12.170" fill="#0000FF"/><rect x="128.10" y="205.29" width="12.175" height="12.170" fill="#0000FF"/><rect x="140.28" y="205.29" width="12.175" height="12.170" fill="#3860FF"/><rect x="152.45" y="205.29" width="12.175" height="12.170" fill="#3860FF"/><rect x="164.62" y="205.29" width="12.175" height="12.170" fill="#36A8FF"/><rect x="176.80" y="205.29" width="12.175" height="12.170" fill="#36A8FF"/><rect x="188.97" y="205.29" width="12.175" height="12.170" fill="#00FFFF"/><rect x="201.15" y="205.29" width="12.175" height="12.170" fill="#00FFFF"/><rect x="213.32" y="205.29" width="12.175" height="12.170" fill="#00FFFF"/><rect x="225.50" y="205.29" width="12.175" height="12.170" fill="#95FEB3"/><rect x="237.68" y="205.29" width="12.175" height="12.170" fill="#95FEB3"/><rect x="249.85" y="205.29" width="12.175" height="12.170" fill="#00FFFF"/><rect x="262.02" y="205.29" width="12.175" height="12.170" fill="#00FFFF"/><rect x="274.20" y="205.29" width="12.175" height="12.170" fill="url(#hatch)"/><rect x="286.38" y="205.29" width="12.175" height="12.170" fill="#36A8FF"/><rect x="298.55" y="205.29" width="12.175" height="12.170" fill="#3860FF"/><rect x="310.73" y="205.29" width="12.175" height="12.170" fill="#3860FF"/><rect x="322.90" y="205.29" width="12.175" height="12.170" fill="#3860FF"/><rect x="335.08" y="205.29" width="12.175" height="12.170" fill="#0000FF"/><rect x="347.25" y="205.29" width="12.175" height="12.170" fill="url(#hatch)"/><rect x="359.43" y="205.29" width="12.175" height="12.170" fill="#0000FF"/><rect x="371.60" y="205.29" width="12.175" height="12.170" fill="#3860FF"/><rect x="383.77" y="205.29" width="12.175" height="12.170" fill="#36A8FF"/><rect x="395.95" y="205.29" width="12.175" height="12.170" fill="url(#hatch)"/><rect x="408.12" y="205.29" width="12.175" height="12.170" fill="url(#hatch)"/><rect x="420.30" y="205.29" width="12.175" height="12.170" fill="url(#hatch)"/><rect x="432.48" y="205.29" width="12.175" height="12.170" fill="url(#hatch)"/><rect x="444.65" y="205.29" width="12.175" height="12.170" fill="#36A8FF"/><rect x="456.83" y="205.29" width="12.175" height="12.170" fill="#36A8FF"/><rect x="469.00" y="205.29" width="12.175" height="12.170" fill="#00FFFF"/><rect x="481.18" y="205.29" width="12.175" height="12.170" fill="#00FFFF"/><rect x="493.35" y="205.29" width="12.175" height="12.170" fill="#36A8FF"/><rect x="505.52" y="205.29" width="12.175" height="12.170" fill="#3860FF"/><rect x="517.70" y="205.29" width="12.175" height="12.170" fill="#3860FF"/><rect x="529.88" y="205.29" width="12.175" height="12.170" fill="#3860FF"/><rect x="542.05" y="205.29" width="12.175" height="12.170" fill="#36A8FF"/><rect x="554.23" y="205.29" width="12.175" height="12.170" fill="#36A8FF"/><rect x="566.40" y="205.29" width="12.175" height="12.170" fill="#95FEB3"/><rect x="578.58" y="205.29" width="12.175" height="12.170" fill="#D2FF64"/><rect x="590.75" y="205.29" width="12.175" height="12.170" fill="#95FEB3"/><rect x="602.93" y="205.29" width="12.175" height="12.170" fill="#00FFFF"/><rect x="615.10" y="205.29" width="12.175" height="12.170" fill="#95FEB3"/><rect x="627.27" y="205.29" width="12.175" height="12.170" fill="#00FFFF"/><rect x="639.45" y="205.29" width="12.175" height="12.170" fill="#00FFFF"/><rect x="651.62" y="205.29" width="12.175" height="12.170" fill="#95FEB3"/><rect x="663.80" y="205.29" width="12.175" height="12.170" fill="#95FEB3"/><rect x="675.98" y="205.29" width="12.175" height="12.170" fill="#D2FF64"/><rect x="688.15" y="205.29" width="12.175" height="12.170" fill="#D2FF64"/><rect x="700.33" y="205.29" width="12.175" height="12.170" fill="#D2FF64"/><rect x="712.50" y="205.29" width="12.175" height="12.170" fill="#D2FF64"/><rect x="55.05" y="217.46" width="12.175" height="12.170" fill="#3860FF"/><rect x="67.22" y="217.46" width="12.175" height="12.170" fill="url(#hatch)"/><rect x="79.40" y="217.46" width="12.175" height="12.170" fill="url(#hatch)"/><rect x="91.57" y="217.46" width="12.175" height="12.170" fill="url(#hatch)"/><rect x="103.75" y="217.46" width="12.175" height="12.170" fill="#36A8FF"/><rect x="115.92" y="217.46" width="12.175" height="12.170" fill="#36A8FF"/><rect x="128.10" y="217.46" width="12.175" height="12.170" fill="#36A8FF"/><rect x="140.28" y="217.46" width="12.175" height="12.170" fill="#36A8FF"/><rect x="152.45" y="217.46" width="12.175" height="12.170" fill="#3860FF"/><rect x="164.62" y="217.46" width="12.175" height="12.170" fill="#36A8FF"/><rect x="176.80" y="217.46" width="12.175" height="12.170" fill="#36A8FF"/><rect x="188.97" y="217.46" width="12.175" height="12.170" fill="url(#hatch)"/><rect x="201.15" y="217.46" width="12.175" height="12.170" fill="#00FFFF"/><rect x="213.32" y="217.46" width="12.175" height="12.170" fill="#95FEB3"/><rect x="225.50" y="217.46" width="12.175" height="12.170" fill="url(#hatch)"/><rect x="237.68" y="217.46" width="12.175" height="12.170" fill="url(#hatch)"/><rect x="249.85" y="217.46" width="12.175" height="12.170" fill="url(#hatch)"/><rect x="262.02" y="217.46" width="12.175" height="12.170" fill="#00FFFF"/><rect x="274.20" y="217.46" width="12.175" height="12.170" fill="url(#hatch)"/><rect x="286.38" y="217.46" width="12.175" height="12.170" fill="url(#hatch)"/><rect x="298.55" y="217.46" width="12.175" height="12.170" fill="#3860FF"/><rect x="310.73" y="217.46" width="12.175" height="12.170" fill="#3860FF"/><rect x="322.90" y="217.46" width="12.175" height="12.170" fill="#3860FF"/><rect x="335.08" y="217.46" width="12.175" height="12.170" fill="#3860FF"/><rect x="347.25" y="217.46" width="12.175" height="12.170" fill="#3860FF"/><rect x="359.43" y="217.46" width="12.175" height="12.170" fill="#3860FF"/><rect x="371.60" y="217.46" width="12.175" height="12.170" fill="#3860FF"/><rect x="383.77" y="217.46" width="12.175" height="12.170" fill="url(#hatch)"/><rect x="395.95" y="217.46" width="12.175" height="12.170" fill="url(#hatch)"/><rect x="408.12" y="217.46" width="12.175" height="12.170" fill="#3860FF"/><rect x="420.30" y="217.46" width="12.175" height="12.170" fill="#3860FF"/><rect x="432.48" y="217.46" width="12.175" height="12.170" fill="url(#hatch)"/><rect x="444.65" y="217.46" width="12.175" height="12.170" fill="#00FFFF"/><rect x="456.83" y="217.46" width="12.175" height="12.170" fill="#95FEB3"/><rect x="469.00" y="217.46" width="12.175" height="12.170" fill="#95FEB3"/><rect x="481.18" y="217.46" width="12.175" height="12.170" fill="#D2FF64"/><rect x="493.35" y="217.46" width="12.175" height="12.170" fill="#FFFF00"/><rect x="505.52" y="217.46" width="12.175" height="12.170" fill="#D2FF64"/><rect x="517.70" y="217.46" width="12.175" height="12.170" fill="#95FEB3"/><rect x="529.88" y="217.46" width="12.175" height="12.170" fill="#95FEB3"/><rect x="542.05" y="217.46" width="12.175" height="12.170" fill="#D2FF64"/><rect x="554.23" y="217.46" width="12.175" height="12.170" fill="#FFFF00"/><rect x="566.40" y="217.46" width="12.175" height="12.170" fill="#FFFF00"/><rect x="578.58" y="217.46" width="12.175" height="12.170" fill="#FFB000"/><rect x="590.75" y="217.46" width="12.175" height="12.170" fill="#FFFF00"/><rect x="602.93" y="217.46" width="12.175" height="12.170" fill="#D2FF64"/><rect x="615.10" y="217.46" width="12.175" height="12.170" fill="#D2FF64"/><rect x="627.27" y="217.46" width="12.175" height="12.170" fill="#D2FF64"/><rect x="639.45" y="217.46" width="12.175" height="12.170" fill="#95FEB3"/><rect x="651.62" y="217.46" width="12.175" height="12.170" fill="#95FEB3"/><rect x="663.80" y="217.46" width="12.175" height="12.170" fill="#D2FF64"/><rect x="675.98" y="217.46" width="12.175" height="12.170" fill="#FFFF00"/><rect x="42.87" y="229.63" width="12.175" height="12.170" fill="#0000FF"/><rect x="55.05" y="229.63" width="12.175" height="12.170" fill="url(#hatch)"/><rect x="67.22" y="229.63" width="12.175" height="12.170" fill="#3860FF"/><rect x="79.40" y="229.63" width="12.175" height="12.170" fill="#3860FF"/><rect x="91.57" y="229.63" width="12.175" height="12.170" fill="#00FFFF"/><rect x="103.75" y="229.63" width="12.175" height="12.170" fill="#00FFFF"/><rect x="115.92" y="229.63" width="12.175" height="12.170" fill="#95FEB3"/><rect x="128.10" y="229.63" width="12.175" height="12.170" fill="#95FEB3"/><rect x="140.28" y="229.63" width="12.175" height="12.170" fill="url(#hatch)"/><rect x="152.45" y="229.63" width="12.175" height="12.170" fill="#36A8FF"/><rect x="164.62" y="229.63" width="12.175" height="12.170" fill="#36A8FF"/><rect x="176.80" y="229.63" width="12.175" height="12.170" fill="url(#hatch)"/><rect x="188.97" y="229.63" width="12.175" height="12.170" fill="url(#hatch)"/><rect x="201.15" y="229.63" width="12.175" height="12.170" fill="url(#hatch)"/><rect x="213.32" y="229.63" width="12.175" height="12.170" fill="url(#hatch)"/><rect x="225.50" y="229.63" width="12.175" height="12.170" fill="#36A8FF"/><rect x="237.68" y="229.63" width="12.175" height="12.170" fill="url(#hatch)"/><rect x="249.85" y="229.63" width="12.175" height="12.170" fill="url(#hatch)"/><rect x="262.02" y="229.63" width="12.175" height="12.170" fill="url(#hatch)"/><rect x="274.20" y="229.63" width="12.175" height="12.170" fill="url(#hatch)"/><rect x="286.38" y="229.63" width="12.175" height="12.170" fill="#0000FF"/><rect x="298.55" y="229.63" width="12.175" height="12.170" fill="#0000FF"/><rect x="310.73" y="229.63" width="12.175" height="12.170" fill="url(#hatch)"/><rect x="322.90" y="229.63" width="12.175" height="12.170" fill="#0000FF"/><rect x="335.08" y="229.63" width="12.175" height="12.170" fill="#3860FF"/><rect x="347.25" y="229.63" width="12.175" height="12.170" fill="#0000FF"/><rect x="359.43" y="229.63" width="12.175" height="12.170" fill="#0000FF"/><rect x="371.60" y="229.63" width="12.175" height="12.170" fill="#3860FF"/><rect x="383.77" y="229.63" width="12.175" height="12.170" fill="#3860FF"/><rect x="395.95" y="229.63" width="12.175" height="12.170" fill="#36A8FF"/><rect x="408.12" y="229.63" width="12.175" height="12.170" fill="#3860FF"/><rect x="420.30" y="229.63" width="12.175" height="12.170" fill="url(#hatch)"/><rect x="432.48" y="229.63" width="12.175" height="12.170" fill="#00FFFF"/><rect x="444.65" y="229.63" width="12.175" height="12.170" fill="#95FEB3"/><rect x="456.83" y="229.63" width="12.175" height="12.170" fill="#00FFFF"/><rect x="469.00" y="229.63" width="12.175" height="12.170" fill="#36A8FF"/><rect x="481.18" y="229.63" width="12.175" height="12.170" fill="#00FFFF"/><rect x="493.35" y="229.63" width="12.175" height="12.170" fill="#FFFF00"/><rect x="505.52" y="229.63" width="12.175" height="12.170" fill="#FFB000"/><rect x="517.70" y="229.63" width="12.175" height="12.170" fill="#FFFF00"/><rect x="529.88" y="229.63" width="12.175" height="12.170" fill="#D2FF64"/><rect x="542.05" y="229.63" width="12.175" height="12.170" fill="#D2FF64"/><rect x="554.23" y="229.63" width="12.175" height="12.170" fill="#FFFF00"/><rect x="566.40" y="229.63" width="12.175" height="12.170" fill="#FFFF00"/><rect x="578.58" y="229.63" width="12.175" height="12.170" fill="#FFFF00"/><rect x="590.75" y="229.63" width="12.175" height="12.170" fill="#FFFF00"/><rect x="602.93" y="229.63" width="12.175" height="12.170" fill="#FFFF00"/><rect x="627.27" y="229.63" width="12.175" height="12.170" fill="#D2FF64"/><rect x="639.45" y="229.63" width="12.175" height="12.170" fill="#95FEB3"/><rect x="651.62" y="229.63" width="12.175" height="12.170" fill="#95FEB3"/><rect x="55.05" y="241.80" width="12.175" height="12.170" fill="url(#hatch)"/><rect x="67.22" y="241.80" width="12.175" height="12.170" fill="#3860FF"/><rect x="79.40" y="241.80" width="12.175" height="12.170" fill="#3860FF"/><rect x="91.57" y="241.80" width="12.175" height="12.170" fill="#3860FF"/><rect x="103.75" y="241.80" width="12.175" height="12.170" fill="url(#hatch)"/><rect x="115.92" y="241.80" width="12.175" height="12.170" fill="url(#hatch)"/><rect x="128.10" y="241.80" width="12.175" height="12.170" fill="#D2FF64"/><rect x="140.28" y="241.80" width="12.175" height="12.170" fill="url(#hatch)"/><rect x="152.45" y="241.80" width="12.175" height="12.170" fill="url(#hatch)"/><rect x="164.62" y="241.80" width="12.175" height="12.170" fill="#00FFFF"/><rect x="176.80" y="241.80" width="12.175" height="12.170" fill="#36A8FF"/><rect x="188.97" y="241.80" width="12.175" height="12.170" fill="#36A8FF"/><rect x="201.15" y="241.80" width="12.175" height="12.170" fill="url(#hatch)"/><rect x="213.32" y="241.80" width="12.175" height="12.170" fill="#3860FF"/><rect x="225.50" y="241.80" width="12.175" height="12.170" fill="#0000FF"/><rect x="237.68" y="241.80" width="12.175" height="12.170" fill="url(#hatch)"/><rect x="249.85" y="241.80" width="12.175" height="12.170" fill="#0000FF"/><rect x="262.02" y="241.80" width="12.175" height="12.170" fill="#0000FF"/><rect x="274.20" y="241.80" width="12.175" height="12.170" fill="#0000FF"/><rect x="286.38" y="241.80" width="12.175" height="12.170" fill="#0000FF"/><rect x="298.55" y="241.80" width="12.175" height="12.170" fill="#0000FF"/><rect x="310.73" y="241.80" width="12.175" height="12.170" fill="url(#hatch)"/><rect x="322.90" y="241.80" width="12.175" height="12.170" fill="url(#hatch)"/><rect x="335.08" y="241.80" width="12.175" height="12.170" fill="url(#hatch)"/><rect x="347.25" y="241.80" width="12.175" height="12.170" fill="#0000FF"/><rect x="359.43" y="241.80" width="12.175" height="12.170" fill="#0000FF"/><rect x="371.60" y="241.80" width="12.175" height="12.170" fill="#0000FF"/><rect x="383.77" y="241.80" width="12.175" height="12.170" fill="#0000FF"/><rect x="395.95" y="241.80" width="12.175" height="12.170" fill="#3860FF"/><rect x="408.12" y="241.80" width="12.175" height="12.170" fill="#36A8FF"/><rect x="420.30" y="241.80" width="12.175" height="12.170" fill="url(#hatch)"/><rect x="432.48" y="241.80" width="12.175" height="12.170" fill="#95FEB3"/><rect x="444.65" y="241.80" width="12.175" height="12.170" fill="#D2FF64"/><rect x="456.83" y="241.80" width="12.175" height="12.170" fill="#95FEB3"/><rect x="469.00" y="241.80" width="12.175" height="12.170" fill="#00FFFF"/><rect x="481.18" y="241.80" width="12.175" height="12.170" fill="#95FEB3"/><rect x="493.35" y="241.80" width="12.175" height="12.170" fill="#FFFF00"/><rect x="505.52" y="241.80" width="12.175" height="12.170" fill="#FFFF00"/><rect x="517.70" y="241.80" width="12.175" height="12.170" fill="#FFFF00"/><rect x="529.88" y="241.80" width="12.175" height="12.170" fill="#D2FF64"/><rect x="542.05" y="241.80" width="12.175" height="12.170" fill="#95FEB3"/><rect x="554.23" y="241.80" width="12.175" height="12.170" fill="#95FEB3"/><rect x="566.40" y="241.80" width="12.175" height="12.170" fill="#FFFF00"/><rect x="578.58" y="241.80" width="12.175" height="12.170" fill="#FFFF00"/><rect x="590.75" y="241.80" width="12.175" height="12.170" fill="#FFFF00"/><rect x="627.27" y="241.80" width="12.175" height="12.170" fill="#D2FF64"/><rect x="67.22" y="253.97" width="12.175" height="12.170" fill="#3860FF"/><rect x="79.40" y="253.97" width="12.175" height="12.170" fill="#3860FF"/><rect x="91.57" y="253.97" width="12.175" height="12.170" fill="#3860FF"/><rect x="103.75" y="253.97" width="12.175" height="12.170" fill="#3860FF"/><rect x="115.92" y="253.97" width="12.175" height="12.170" fill="#3860FF"/><rect x="128.10" y="253.97" width="12.175" height="12.170" fill="#36A8FF"/><rect x="140.28" y="253.97" width="12.175" height="12.170" fill="#3860FF"/><rect x="152.45" y="253.97" width="12.175" height="12.170" fill="#3860FF"/><rect x="164.62" y="253.97" width="12.175" height="12.170" fill="url(#hatch)"/><rect x="176.80" y="253.97" width="12.175" height="12.170" fill="#0000FF"/><rect x="188.97" y="253.97" width="12.175" height="12.170" fill="url(#hatch)"/><rect x="201.15" y="253.97" width="12.175" height="12.170" fill="url(#hatch)"/><rect x="213.32" y="253.97" width="12.175" height="12.170" fill="url(#hatch)"/><rect x="225.50" y="253.97" width="12.175" height="12.170" fill="#0000FF"/><rect x="237.68" y="253.97" width="12.175" height="12.170" fill="url(#hatch)"/><rect x="249.85" y="253.97" width="12.175" height="12.170" fill="url(#hatch)"/><rect x="262.02" y="253.97" width="12.175" height="12.170" fill="#0000FF"/><rect x="274.20" y="253.97" width="12.175" height="12.170" fill="#0000FF"/><rect x="286.38" y="253.97" width="12.175" height="12.170" fill="#0000FF"/><rect x="298.55" y="253.97" width="12.175" height="12.170" fill="#0000FF"/><rect x="310.73" y="253.97" width="12.175" height="12.170" fill="#0000FF"/><rect x="322.90" y="253.97" width="12.175" height="12.170" fill="#3860FF"/><rect x="335.08" y="253.97" width="12.175" height="12.170" fill="#3860FF"/><rect x="347.25" y="253.97" width="12.175" height="12.170" fill="#0000FF"/><rect x="359.43" y="253.97" width="12.175" height="12.170" fill="#0000FF"/><rect x="371.60" y="253.97" width="12.175" height="12.170" fill="#0000FF"/><rect x="383.77" y="253.97" width="12.175" height="12.170" fill="#0000FF"/><rect x="395.95" y="253.97" width="12.175" height="12.170" fill="#3860FF"/><rect x="408.12" y="253.97" width="12.175" height="12.170" fill="#3860FF"/><rect x="420.30" y="253.97" width="12.175" height="12.170" fill="#36A8FF"/><rect x="432.48" y="253.97" width="12.175" height="12.170" fill="#00FFFF"/><rect x="444.65" y="253.97" width="12.175" height="12.170" fill="#00FFFF"/><rect x="456.83" y="253.97" width="12.175" height="12.170" fill="#00FFFF"/><rect x="469.00" y="253.97" width="12.175" height="12.170" fill="#00FFFF"/><rect x="481.18" y="253.97" width="12.175" height="12.170" fill="#95FEB3"/><rect x="493.35" y="253.97" width="12.175" height="12.170" fill="#D2FF64"/><rect x="505.52" y="253.97" width="12.175" height="12.170" fill="#FFFF00"/><rect x="517.70" y="253.97" width="12.175" height="12.170" fill="#D2FF64"/><rect x="529.88" y="253.97" width="12.175" height="12.170" fill="#D2FF64"/><rect x="542.05" y="253.97" width="12.175" height="12.170" fill="#D2FF64"/><rect x="554.23" y="253.97" width="12.175" height="12.170" fill="#95FEB3"/><rect x="566.40" y="253.97" width="12.175" height="12.170" fill="#00FFFF"/><rect x="578.58" y="253.97" width="12.175" height="12.170" fill="#00FFFF"/><rect x="590.75" y="253.97" width="12.175" height="12.170" fill="#95FEB3"/><rect x="602.93" y="253.97" width="12.175" height="12.170" fill="#95FEB3"/><rect x="615.10" y="253.97" width="12.175" height="12.170" fill="#95FEB3"/><rect x="627.27" y="253.97" width="12.175" height="12.170" fill="#95FEB3"/><rect x="639.45" y="253.97" width="12.175" height="12.170" fill="#00FFFF"/><rect x="67.22" y="266.14" width="12.175" height="12.170" fill="#36A8FF"/><rect x="79.40" y="266.14" width="12.175" height="12.170" fill="url(#hatch)"/><rect x="91.57" y="266.14" width="12.175" height="12.170" fill="url(#hatch)"/><rect x="103.75" y="266.14" width="12.175" height="12.170" fill="#3860FF"/><rect x="115.92" y="266.14" width="12.175" height="12.170" fill="#3860FF"/><rect x="128.10" y="266.14" width="12.175" height="12.170" fill="#0000FF"/><rect x="140.28" y="266.14" width="12.175" height="12.170" fill="#0000FF"/><rect x="152.45" y="266.14" width="12.175" height="12.170" fill="url(#hatch)"/><rect x="164.62" y="266.14" width="12.175" height="12.170" fill="#0000FF"/><rect x="176.80" y="266.14" width="12.175" height="12.170" fill="url(#hatch)"/><rect x="188.97" y="266.14" width="12.175" height="12.170" fill="url(#hatch)"/><rect x="201.15" y="266.14" width="12.175" height="12.170" fill="url(#hatch)"/><rect x="213.32" y="266.14" width="12.175" height="12.170" fill="url(#hatch)"/><rect x="225.50" y="266.14" width="12.175" height="12.170" fill="url(#hatch)"/><rect x="237.68" y="266.14" width="12.175" height="12.170" fill="url(#hatch)"/><rect x="249.85" y="266.14" width="12.175" height="12.170" fill="url(#hatch)"/><rect x="262.02" y="266.14" width="12.175" height="12.170" fill="#0000FF"/><rect x="274.20" y="266.14" width="12.175" height="12.170" fill="#0000FF"/><rect x="286.38" y="266.14" width="12.175" height="12.170" fill="#0000FF"/><rect x="298.55" y="266.14" width="12.175" height="12.170" fill="#0000FF"/><rect x="310.73" y="266.14" width="12.175" height="12.170" fill="#0000FF"/><rect x="322.90" y="266.14" width="12.175" height="12.170" fill="#3860FF"/><rect x="335.08" y="266.14" width="12.175" height="12.170" fill="#3860FF"/><rect x="347.25" y="266.14" width="12.175" height="12.170" fill="#0000FF"/><rect x="359.43" y="266.14" width="12.175" height="12.170" fill="#0000FF"/><rect x="371.60" y="266.14" width="12.175" height="12.170" fill="#0000FF"/><rect x="383.77" y="266.14" width="12.175" height="12.170" fill="#0000FF"/><rect x="395.95" y="266.14" width="12.175" height="12.170" fill="#3860FF"/><rect x="408.12" y="266.14" width="12.175" height="12.170" fill="#36A8FF"/><rect x="420.30" y="266.14" width="12.175" height="12.170" fill="#00FFFF"/><rect x="432.48" y="266.14" width="12.175" height="12.170" fill="#36A8FF"/><rect x="444.65" y="266.14" width="12.175" height="12.170" fill="#36A8FF"/><rect x="456.83" y="266.14" width="12.175" height="12.170" fill="#36A8FF"/><rect x="469.00" y="266.14" width="12.175" height="12.170" fill="#00FFFF"/><rect x="481.18" y="266.14" width="12.175" height="12.170" fill="#D2FF64"/><rect x="493.35" y="266.14" width="12.175" height="12.170" fill="#D2FF64"/><rect x="505.52" y="266.14" width="12.175" height="12.170" fill="#FFFF00"/><rect x="517.70" y="266.14" width="12.175" height="12.170" fill="#FFFF00"/><rect x="529.88" y="266.14" width="12.175" height="12.170" fill="#FFFF00"/><rect x="542.05" y="266.14" width="12.175" height="12.170" fill="#FFFF00"/><rect x="554.23" y="266.14" width="12.175" height="12.170" fill="#95FEB3"/><rect x="566.40" y="266.14" width="12.175" height="12.170" fill="#95FEB3"/><rect x="578.58" y="266.14" width="12.175" height="12.170" fill="#95FEB3"/><rect x="590.75" y="266.14" width="12.175" height="12.170" fill="#95FEB3"/><rect x="602.93" y="266.14" width="12.175" height="12.170" fill="#D2FF64"/><rect x="615.10" y="266.14" width="12.175" height="12.170" fill="#95FEB3"/><rect x="627.27" y="266.14" width="12.175" height="12.170" fill="#95FEB3"/><rect x="639.45" y="266.14" width="12.175" height="12.170" fill="#95FEB3"/><rect x="79.40" y="278.31" width="12.175" height="12.170" fill="url(#hatch)"/><rect x="91.57" y="278.31" width="12.175" height="12.170" fill="url(#hatch)"/><rect x="103.75" y="278.31" width="12.175" height="12.170" fill="url(#hatch)"/><rect x="115.92" y="278.31" width="12.175" height="12.170" fill="url(#hatch)"/><rect x="128.10" y="278.31" width="12.175" height="12.170" fill="#0000FF"/><rect x="140.28" y="278.31" width="12.175" height="12.170" fill="#0000FF"/><rect x="152.45" y="278.31" width="12.175" height="12.170" fill="#0000FF"/><rect x="164.62" y="278.31" width="12.175" height="12.170" fill="url(#hatch)"/><rect x="176.80" y="278.31" width="12.175" height="12.170" fill="url(#hatch)"/><rect x="188.97" y="278.31" width="12.175" height="12.170" fill="#0000FF"/><rect x="201.15" y="278.31" width="12.175" height="12.170" fill="url(#hatch)"/><rect x="213.32" y="278.31" width="12.175" height="12.170" fill="url(#hatch)"/><rect x="225.50" y="278.31" width="12.175" height="12.170" fill="url(#hatch)"/><rect x="237.68" y="278.31" width="12.175" height="12.170" fill="url(#hatch)"/><rect x="249.85" y="278.31" width="12.175" height="12.170" fill="url(#hatch)"/><rect x="262.02" y="278.31" width="12.175" height="12.170" fill="url(#hatch)"/><rect x="274.20" y="278.31" width="12.175" height="12.170" fill="url(#hatch)"/><rect x="286.38" y="278.31" width="12.175" height="12.170" fill="#0000FF"/><rect x="298.55" y="278.31" width="12.175" height="12.170" fill="#0000FF"/><rect x="310.73" y="278.31" width="12.175" height="12.170" fill="url(#hatch)"/><rect x="322.90" y="278.31" width="12.175" height="12.170" fill="url(#hatch)"/><rect x="335.08" y="278.31" width="12.175" height="12.170" fill="#0000FF"/><rect x="347.25" y="278.31" width="12.175" height="12.170" fill="#0000FF"/><rect x="359.43" y="278.31" width="12.175" height="12.170" fill="#0000FF"/><rect x="371.60" y="278.31" width="12.175" height="12.170" fill="#0000FF"/><rect x="383.77" y="278.31" width="12.175" height="12.170" fill="#0000FF"/><rect x="395.95" y="278.31" width="12.175" height="12.170" fill="#0000FF"/><rect x="408.12" y="278.31" width="12.175" height="12.170" fill="#0000FF"/><rect x="420.30" y="278.31" width="12.175" height="12.170" fill="#36A8FF"/><rect x="432.48" y="278.31" width="12.175" height="12.170" fill="#36A8FF"/><rect x="444.65" y="278.31" width="12.175" height="12.170" fill="#00FFFF"/><rect x="456.83" y="278.31" width="12.175" height="12.170" fill="#00FFFF"/><rect x="469.00" y="278.31" width="12.175" height="12.170" fill="#00FFFF"/><rect x="481.18" y="278.31" width="12.175" height="12.170" fill="#95FEB3"/><rect x="493.35" y="278.31" width="12.175" height="12.170" fill="#95FEB3"/><rect x="505.52" y="278.31" width="12.175" height="12.170" fill="#D2FF64"/><rect x="517.70" y="278.31" width="12.175" height="12.170" fill="#D2FF64"/><rect x="529.88" y="278.31" width="12.175" height="12.170" fill="#FFFF00"/><rect x="542.05" y="278.31" width="12.175" height="12.170" fill="#FFFF00"/><rect x="554.23" y="278.31" width="12.175" height="12.170" fill="#D2FF64"/><rect x="566.40" y="278.31" width="12.175" height="12.170" fill="#D2FF64"/><rect x="578.58" y="278.31" width="12.175" height="12.170" fill="#95FEB3"/><rect x="590.75" y="278.31" width="12.175" height="12.170" fill="#95FEB3"/><rect x="602.93" y="278.31" width="12.175" height="12.170" fill="#D2FF64"/><rect x="615.10" y="278.31" width="12.175" height="12.170" fill="#95FEB3"/><rect x="103.75" y="290.48" width="12.175" height="12.170" fill="url(#hatch)"/><rect x="115.92" y="290.48" width="12.175" height="12.170" fill="url(#hatch)"/><rect x="128.10" y="290.48" width="12.175" height="12.170" fill="url(#hatch)"/><rect x="140.28" y="290.48" width="12.175" height="12.170" fill="url(#hatch)"/><rect x="152.45" y="290.48" width="12.175" height="12.170" fill="#0000FF"/><rect x="164.62" y="290.48" width="12.175" height="12.170" fill="url(#hatch)"/><rect x="176.80" y="290.48" width="12.175" height="12.170" fill="url(#hatch)"/><rect x="188.97" y="290.48" width="12.175" height="12.170" fill="url(#hatch)"/><rect x="201.15" y="290.48" width="12.175" height="12.170" fill="url(#hatch)"/><rect x="213.32" y="290.48" width="12.175" height="12.170" fill="url(#hatch)"/><rect x="225.50" y="290.48" width="12.175" height="12.170" fill="url(#hatch)"/><rect x="237.68" y="290.48" width="12.175" height="12.170" fill="#0000FF"/><rect x="249.85" y="290.48" width="12.175" height="12.170" fill="url(#hatch)"/><rect x="262.02" y="290.48" width="12.175" height="12.170" fill="url(#hatch)"/><rect x="274.20" y="290.48" width="12.175" height="12.170" fill="#0000FF"/><rect x="286.38" y="290.48" width="12.175" height="12.170" fill="url(#hatch)"/><rect x="298.55" y="290.48" width="12.175" height="12.170" fill="url(#hatch)"/><rect x="310.73" y="290.48" width="12.175" height="12.170" fill="#0000FF"/><rect x="322.90" y="290.48" width="12.175" height="12.170" fill="url(#hatch)"/><rect x="335.08" y="290.48" width="12.175" height="12.170" fill="url(#hatch)"/><rect x="347.25" y="290.48" width="12.175" height="12.170" fill="#0000FF"/><rect x="359.43" y="290.48" width="12.175" height="12.170" fill="url(#hatch)"/><rect x="371.60" y="290.48" width="12.175" height="12.170" fill="#0000FF"/><rect x="383.77" y="290.48" width="12.175" height="12.170" fill="#3860FF"/><rect x="395.95" y="290.48" width="12.175" height="12.170" fill="#3860FF"/><rect x="408.12" y="290.48" width="12.175" height="12.170" fill="#3860FF"/><rect x="420.30" y="290.48" width="12.175" height="12.170" fill="#3860FF"/><rect x="432.48" y="290.48" width="12.175" height="12.170" fill="#00FFFF"/><rect x="444.65" y="290.48" width="12.175" height="12.170" fill="#95FEB3"/><rect x="456.83" y="290.48" width="12.175" height="12.170" fill="#95FEB3"/><rect x="469.00" y="290.48" width="12.175" height="12.170" fill="#D2FF64"/><rect x="481.18" y="290.48" width="12.175" height="12.170" fill="#D2FF64"/><rect x="493.35" y="290.48" width="12.175" height="12.170" fill="#95FEB3"/><rect x="505.52" y="290.48" width="12.175" height="12.170" fill="#D2FF64"/><rect x="517.70" y="290.48" width="12.175" height="12.170" fill="#95FEB3"/><rect x="529.88" y="290.48" width="12.175" height="12.170" fill="#D2FF64"/><rect x="542.05" y="290.48" width="12.175" height="12.170" fill="#D2FF64"/><rect x="554.23" y="290.48" width="12.175" height="12.170" fill="#D2FF64"/><rect x="566.40" y="290.48" width="12.175" height="12.170" fill="#D2FF64"/><rect x="578.58" y="290.48" width="12.175" height="12.170" fill="#95FEB3"/><rect x="590.75" y="290.48" width="12.175" height="12.170" fill="#00FFFF"/><rect x="602.93" y="290.48" width="12.175" height="12.170" fill="#95FEB3"/><rect x="615.10" y="290.48" width="12.175" height="12.170" fill="#95FEB3"/><rect x="115.92" y="302.65" width="12.175" height="12.170" fill="#0000FF"/><rect x="128.10" y="302.65" width="12.175" height="12.170" fill="url(#hatch)"/><rect x="140.28" y="302.65" width="12.175" height="12.170" fill="url(#hatch)"/><rect x="152.45" y="302.65" width="12.175" height="12.170" fill="url(#hatch)"/><rect x="164.62" y="302.65" width="12.175" height="12.170" fill="url(#hatch)"/><rect x="176.80" y="302.65" width="12.175" height="12.170" fill="url(#hatch)"/><rect x="188.97" y="302.65" width="12.175" height="12.170" fill="url(#hatch)"/><rect x="201.15" y="302.65" width="12.175" height="12.170" fill="url(#hatch)"/><rect x="213.32" y="302.65" width="12.175" height="12.170" fill="url(#hatch)"/><rect x="225.50" y="302.65" width="12.175" height="12.170" fill="url(#hatch)"/><rect x="237.68" y="302.65" width="12.175" height="12.170" fill="url(#hatch)"/><rect x="249.85" y="302.65" width="12.175" height="12.170" fill="url(#hatch)"/><rect x="262.02" y="302.65" width="12.175" height="12.170" fill="url(#hatch)"/><rect x="274.20" y="302.65" width="12.175" height="12.170" fill="#0000FF"/><rect x="286.38" y="302.65" width="12.175" height="12.170" fill="url(#hatch)"/><rect x="298.55" y="302.65" width="12.175" height="12.170" fill="url(#hatch)"/><rect x="310.73" y="302.65" width="12.175" height="12.170" fill="#0000FF"/><rect x="322.90" y="302.65" width="12.175" height="12.170" fill="#3860FF"/><rect x="335.08" y="302.65" width="12.175" height="12.170" fill="#3860FF"/><rect x="347.25" y="302.65" width="12.175" height="12.170" fill="#0000FF"/><rect x="359.43" y="302.65" width="12.175" height="12.170" fill="#0000FF"/><rect x="371.60" y="302.65" width="12.175" height="12.170" fill="#3860FF"/><rect x="383.77" y="302.65" width="12.175" height="12.170" fill="#3860FF"/><rect x="395.95" y="302.65" width="12.175" height="12.170" fill="#3860FF"/><rect x="408.12" y="302.65" width="12.175" height="12.170" fill="#3860FF"/><rect x="420.30" y="302.65" width="12.175" height="12.170" fill="#3860FF"/><rect x="432.48" y="302.65" width="12.175" height="12.170" fill="#36A8FF"/><rect x="444.65" y="302.65" width="12.175" height="12.170" fill="#D2FF64"/><rect x="456.83" y="302.65" width="12.175" height="12.170" fill="#D2FF64"/><rect x="469.00" y="302.65" width="12.175" height="12.170" fill="#D2FF64"/><rect x="481.18" y="302.65" width="12.175" height="12.170" fill="#D2FF64"/><rect x="493.35" y="302.65" width="12.175" height="12.170" fill="#D2FF64"/><rect x="505.52" y="302.65" width="12.175" height="12.170" fill="#D2FF64"/><rect x="517.70" y="302.65" width="12.175" height="12.170" fill="#95FEB3"/><rect x="529.88" y="302.65" width="12.175" height="12.170" fill="#95FEB3"/><rect x="542.05" y="302.65" width="12.175" height="12.170" fill="#D2FF64"/><rect x="554.23" y="302.65" width="12.175" height="12.170" fill="#D2FF64"/><rect x="566.40" y="302.65" width="12.175" height="12.170" fill="#95FEB3"/><rect x="578.58" y="302.65" width="12.175" height="12.170" fill="#95FEB3"/><rect x="590.75" y="302.65" width="12.175" height="12.170" fill="#00FFFF"/><rect x="602.93" y="302.65" width="12.175" height="12.170" fill="#95FEB3"/><rect x="615.10" y="302.65" width="12.175" height="12.170" fill="#95FEB3"/><rect x="115.92" y="314.82" width="12.175" height="12.170" fill="url(#hatch)"/><rect x="128.10" y="314.82" width="12.175" height="12.170" fill="#0000FF"/><rect x="140.28" y="314.82" width="12.175" height="12.170" fill="url(#hatch)"/><rect x="152.45" y="314.82" width="12.175" height="12.170" fill="url(#hatch)"/><rect x="164.62" y="314.82" width="12.175" height="12.170" fill="url(#hatch)"/><rect x="176.80" y="314.82" width="12.175" height="12.170" fill="url(#hatch)"/><rect x="188.97" y="314.82" width="12.175" height="12.170" fill="url(#hatch)"/><rect x="201.15" y="314.82" width="12.175" height="12.170" fill="url(#hatch)"/><rect x="213.32" y="314.82" width="12.175" height="12.170" fill="url(#hatch)"/><rect x="225.50" y="314.82" width="12.175" height="12.170" fill="url(#hatch)"/><rect x="237.68" y="314.82" width="12.175" height="12.170" fill="url(#hatch)"/><rect x="249.85" y="314.82" width="12.175" height="12.170" fill="url(#hatch)"/><rect x="262.02" y="314.82" width="12.175" height="12.170" fill="#0000FF"/><rect x="274.20" y="314.82" width="12.175" height="12.170" fill="#0000FF"/><rect x="286.38" y="314.82" width="12.175" height="12.170" fill="url(#hatch)"/><rect x="298.55" y="314.82" width="12.175" height="12.170" fill="url(#hatch)"/><rect x="310.73" y="314.82" width="12.175" height="12.170" fill="#3860FF"/><rect x="322.90" y="314.82" width="12.175" height="12.170" fill="#36A8FF"/><rect x="335.08" y="314.82" width="12.175" height="12.170" fill="#36A8FF"/><rect x="347.25" y="314.82" width="12.175" height="12.170" fill="#3860FF"/><rect x="359.43" y="314.82" width="12.175" height="12.170" fill="url(#hatch)"/><rect x="371.60" y="314.82" width="12.175" height="12.170" fill="#0000FF"/><rect x="383.77" y="314.82" width="12.175" height="12.170" fill="#0000FF"/><rect x="395.95" y="314.82" width="12.175" height="12.170" fill="#3860FF"/><rect x="408.12" y="314.82" width="12.175" height="12.170" fill="#3860FF"/><rect x="420.30" y="314.82" width="12.175" height="12.170" fill="#36A8FF"/><rect x="432.48" y="314.82" width="12.175" height="12.170" fill="#00FFFF"/><rect x="444.65" y="314.82" width="12.175" height="12.170" fill="#D2FF64"/><rect x="456.83" y="314.82" width="12.175" height="12.170" fill="#D2FF64"/><rect x="469.00" y="314.82" width="12.175" height="12.170" fill="#D2FF64"/><rect x="481.18" y="314.82" width="12.175" height="12.170" fill="#D2FF64"/><rect x="493.35" y="314.82" width="12.175" height="12.170" fill="#D2FF64"/><rect x="505.52" y="314.82" width="12.175" height="12.170" fill="#95FEB3"/><rect x="517.70" y="314.82" width="12.175" height="12.170" fill="#D2FF64"/><rect x="529.88" y="314.82" width="12.175" height="12.170" fill="#D2FF64"/><rect x="542.05" y="314.82" width="12.175" height="12.170" fill="#D2FF64"/><rect x="554.23" y="314.82" width="12.175" height="12.170" fill="#FFFF00"/><rect x="566.40" y="314.82" width="12.175" height="12.170" fill="#FFFF00"/><rect x="578.58" y="314.82" width="12.175" height="12.170" fill="#D2FF64"/><rect x="590.75" y="314.82" width="12.175" height="12.170" fill="#D2FF64"/><rect x="602.93" y="314.82" width="12.175" height="12.170" fill="#D2FF64"/><rect x="615.10" y="314.82" width="12.175" height="12.170" fill="#D2FF64"/><rect x="627.27" y="314.82" width="12.175" height="12.170" fill="#FFFF00"/><rect x="103.75" y="326.99" width="12.175" height="12.170" fill="#0000FF"/><rect x="115.92" y="326.99" width="12.175" height="12.170" fill="url(#hatch)"/><rect x="128.10" y="326.99" width="12.175" height="12.170" fill="url(#hatch)"/><rect x="140.28" y="326.99" width="12.175" height="12.170" fill="url(#hatch)"/><rect x="152.45" y="326.99" width="12.175" height="12.170" fill="url(#hatch)"/><rect x="164.62" y="326.99" width="12.175" height="12.170" fill="url(#hatch)"/><rect x="176.80" y="326.99" width="12.175" height="12.170" fill="url(#hatch)"/><rect x="188.97" y="326.99" width="12.175" height="12.170" fill="url(#hatch)"/><rect x="201.15" y="326.99" width="12.175" height="12.170" fill="url(#hatch)"/><rect x="213.32" y="326.99" width="12.175" height="12.170" fill="#0000FF"/><rect x="225.50" y="326.99" width="12.175" height="12.170" fill="url(#hatch)"/><rect x="237.68" y="326.99" width="12.175" height="12.170" fill="#0000FF"/><rect x="249.85" y="326.99" width="12.175" height="12.170" fill="#0000FF"/><rect x="262.02" y="326.99" width="12.175" height="12.170" fill="#0000FF"/><rect x="274.20" y="326.99" width="12.175" height="12.170" fill="#0000FF"/><rect x="286.38" y="326.99" width="12.175" height="12.170" fill="#0000FF"/><rect x="298.55" y="326.99" width="12.175" height="12.170" fill="url(#hatch)"/><rect x="310.73" y="326.99" width="12.175" height="12.170" fill="#36A8FF"/><rect x="322.90" y="326.99" width="12.175" height="12.170" fill="#36A8FF"/><rect x="335.08" y="326.99" width="12.175" height="12.170" fill="#36A8FF"/><rect x="347.25" y="326.99" width="12.175" height="12.170" fill="#3860FF"/><rect x="359.43" y="326.99" width="12.175" height="12.170" fill="#3860FF"/><rect x="371.60" y="326.99" width="12.175" height="12.170" fill="#0000FF"/><rect x="383.77" y="326.99" width="12.175" height="12.170" fill="#0000FF"/><rect x="395.95" y="326.99" width="12.175" height="12.170" fill="#3860FF"/><rect x="408.12" y="326.99" width="12.175" height="12.170" fill="#3860FF"/><rect x="420.30" y="326.99" width="12.175" height="12.170" fill="#3860FF"/><rect x="432.48" y="326.99" width="12.175" height="12.170" fill="#3860FF"/><rect x="444.65" y="326.99" width="12.175" height="12.170" fill="#36A8FF"/><rect x="456.83" y="326.99" width="12.175" height="12.170" fill="#D2FF64"/><rect x="469.00" y="326.99" width="12.175" height="12.170" fill="#D2FF64"/><rect x="481.18" y="326.99" width="12.175" height="12.170" fill="#95FEB3"/><rect x="493.35" y="326.99" width="12.175" height="12.170" fill="#D2FF64"/><rect x="505.52" y="326.99" width="12.175" height="12.170" fill="#D2FF64"/><rect x="517.70" y="326.99" width="12.175" height="12.170" fill="#D2FF64"/><rect x="529.88" y="326.99" width="12.175" height="12.170" fill="#FFFF00"/><rect x="542.05" y="326.99" width="12.175" height="12.170" fill="#FFFF00"/><rect x="554.23" y="326.99" width="12.175" height="12.170" fill="#FFFF00"/><rect x="566.40" y="326.99" width="12.175" height="12.170" fill="#FFFF00"/><rect x="578.58" y="326.99" width="12.175" height="12.170" fill="#FFB000"/><rect x="590.75" y="326.99" width="12.175" height="12.170" fill="#FFFF00"/><rect x="602.93" y="326.99" width="12.175" height="12.170" fill="#FFFF00"/><rect x="615.10" y="326.99" width="12.175" height="12.170" fill="#FFFF00"/><rect x="627.27" y="326.99" width="12.175" height="12.170" fill="#FFB000"/><rect x="115.92" y="339.16" width="12.175" height="12.170" fill="url(#hatch)"/><rect x="128.10" y="339.16" width="12.175" height="12.170" fill="#0000FF"/><rect x="140.28" y="339.16" width="12.175" height="12.170" fill="#0000FF"/><rect x="152.45" y="339.16" width="12.175" height="12.170" fill="url(#hatch)"/><rect x="164.62" y="339.16" width="12.175" height="12.170" fill="url(#hatch)"/><rect x="176.80" y="339.16" width="12.175" height="12.170" fill="url(#hatch)"/><rect x="188.97" y="339.16" width="12.175" height="12.170" fill="url(#hatch)"/><rect x="201.15" y="339.16" width="12.175" height="12.170" fill="url(#hatch)"/><rect x="213.32" y="339.16" width="12.175" height="12.170" fill="url(#hatch)"/><rect x="225.50" y="339.16" width="12.175" height="12.170" fill="#0000FF"/><rect x="237.68" y="339.16" width="12.175" height="12.170" fill="url(#hatch)"/><rect x="249.85" y="339.16" width="12.175" height="12.170" fill="#0000FF"/><rect x="262.02" y="339.16" width="12.175" height="12.170" fill="#0000FF"/><rect x="274.20" y="339.16" width="12.175" height="12.170" fill="url(#hatch)"/><rect x="286.38" y="339.16" width="12.175" height="12.170" fill="#3860FF"/><rect x="298.55" y="339.16" width="12.175" height="12.170" fill="#3860FF"/><rect x="310.73" y="339.16" width="12.175" height="12.170" fill="#3860FF"/><rect x="322.90" y="339.16" width="12.175" height="12.170" fill="#3860FF"/><rect x="335.08" y="339.16" width="12.175" height="12.170" fill="#3860FF"/><rect x="347.25" y="339.16" width="12.175" height="12.170" fill="#0000FF"/><rect x="359.43" y="339.16" width="12.175" height="12.170" fill="#0000FF"/><rect x="371.60" y="339.16" width="12.175" height="12.170" fill="#0000FF"/><rect x="383.77" y="339.16" width="12.175" height="12.170" fill="#0000FF"/><rect x="395.95" y="339.16" width="12.175" height="12.170" fill="#0000FF"/><rect x="408.12" y="339.16" width="12.175" height="12.170" fill="#0000FF"/><rect x="420.30" y="339.16" width="12.175" height="12.170" fill="#0000FF"/><rect x="432.48" y="339.16" width="12.175" height="12.170" fill="#3860FF"/><rect x="444.65" y="339.16" width="12.175" height="12.170" fill="#36A8FF"/><rect x="456.83" y="339.16" width="12.175" height="12.170" fill="#95FEB3"/><rect x="469.00" y="339.16" width="12.175" height="12.170" fill="#00FFFF"/><rect x="481.18" y="339.16" width="12.175" height="12.170" fill="#00FFFF"/><rect x="493.35" y="339.16" width="12.175" height="12.170" fill="#95FEB3"/><rect x="505.52" y="339.16" width="12.175" height="12.170" fill="#95FEB3"/><rect x="517.70" y="339.16" width="12.175" height="12.170" fill="#D2FF64"/><rect x="529.88" y="339.16" width="12.175" height="12.170" fill="#D2FF64"/><rect x="542.05" y="339.16" width="12.175" height="12.170" fill="#FFFF00"/><rect x="554.23" y="339.16" width="12.175" height="12.170" fill="#FFFF00"/><rect x="566.40" y="339.16" width="12.175" height="12.170" fill="#FFB000"/><rect x="578.58" y="339.16" width="12.175" height="12.170" fill="#FFB000"/><rect x="590.75" y="339.16" width="12.175" height="12.170" fill="#FFFF00"/><rect x="602.93" y="339.16" width="12.175" height="12.170" fill="#FFFF00"/><rect x="615.10" y="339.16" width="12.175" height="12.170" fill="#FFB000"/><rect x="627.27" y="339.16" width="12.175" height="12.170" fill="#FFB000"/><rect x="152.45" y="351.33" width="12.175" height="12.170" fill="#36A8FF"/><rect x="164.62" y="351.33" width="12.175" height="12.170" fill="url(#hatch)"/><rect x="176.80" y="351.33" width="12.175" height="12.170" fill="url(#hatch)"/><rect x="188.97" y="351.33" width="12.175" height="12.170" fill="url(#hatch)"/><rect x="201.15" y="351.33" width="12.175" height="12.170" fill="url(#hatch)"/><rect x="213.32" y="351.33" width="12.175" height="12.170" fill="#3860FF"/><rect x="225.50" y="351.33" width="12.175" height="12.170" fill="#3860FF"/><rect x="237.68" y="351.33" width="12.175" height="12.170" fill="#3860FF"/><rect x="249.85" y="351.33" width="12.175" height="12.170" fill="#0000FF"/><rect x="262.02" y="351.33" width="12.175" height="12.170" fill="#0000FF"/><rect x="274.20" y="351.33" width="12.175" height="12.170" fill="#0000FF"/><rect x="286.38" y="351.33" width="12.175" height="12.170" fill="#3860FF"/><rect x="298.55" y="351.33" width="12.175" height="12.170" fill="#3860FF"/><rect x="310.73" y="351.33" width="12.175" height="12.170" fill="#3860FF"/><rect x="322.90" y="351.33" width="12.175" height="12.170" fill="url(#hatch)"/><rect x="335.08" y="351.33" width="12.175" height="12.170" fill="#0000FF"/><rect x="347.25" y="351.33" width="12.175" height="12.170" fill="#0000FF"/><rect x="359.43" y="351.33" width="12.175" height="12.170" fill="#0000FF"/><rect x="371.60" y="351.33" width="12.175" height="12.170" fill="#0000FF"/><rect x="383.77" y="351.33" width="12.175" height="12.170" fill="#0000FF"/><rect x="395.95" y="351.33" width="12.175" height="12.170" fill="#3860FF"/><rect x="408.12" y="351.33" width="12.175" height="12.170" fill="#0000FF"/><rect x="420.30" y="351.33" width="12.175" height="12.170" fill="#0000FF"/><rect x="432.48" y="351.33" width="12.175" height="12.170" fill="#3860FF"/><rect x="444.65" y="351.33" width="12.175" height="12.170" fill="#36A8FF"/><rect x="456.83" y="351.33" width="12.175" height="12.170" fill="#00FFFF"/><rect x="469.00" y="351.33" width="12.175" height="12.170" fill="#00FFFF"/><rect x="481.18" y="351.33" width="12.175" height="12.170" fill="#00FFFF"/><rect x="493.35" y="351.33" width="12.175" height="12.170" fill="#00FFFF"/><rect x="505.52" y="351.33" width="12.175" height="12.170" fill="#95FEB3"/><rect x="517.70" y="351.33" width="12.175" height="12.170" fill="#D2FF64"/><rect x="529.88" y="351.33" width="12.175" height="12.170" fill="#D2FF64"/><rect x="542.05" y="351.33" width="12.175" height="12.170" fill="#FFFF00"/><rect x="554.23" y="351.33" width="12.175" height="12.170" fill="#FFB000"/><rect x="566.40" y="351.33" width="12.175" height="12.170" fill="#FFB000"/><rect x="578.58" y="351.33" width="12.175" height="12.170" fill="#FFFF00"/><rect x="590.75" y="351.33" width="12.175" height="12.170" fill="#FFFF00"/><rect x="602.93" y="351.33" width="12.175" height="12.170" fill="#FFB000"/><rect x="615.10" y="351.33" width="12.175" height="12.170" fill="#FFB000"/><rect x="627.27" y="351.33" width="12.175" height="12.170" fill="#FFB000"/><rect x="639.45" y="351.33" width="12.175" height="12.170" fill="#FF6E00"/><rect x="176.80" y="363.50" width="12.175" height="12.170" fill="#3860FF"/><rect x="188.97" y="363.50" width="12.175" height="12.170" fill="#0000FF"/><rect x="201.15" y="363.50" width="12.175" height="12.170" fill="url(#hatch)"/><rect x="213.32" y="363.50" width="12.175" height="12.170" fill="#3860FF"/><rect x="225.50" y="363.50" width="12.175" height="12.170" fill="#3860FF"/><rect x="237.68" y="363.50" width="12.175" height="12.170" fill="#3860FF"/><rect x="249.85" y="363.50" width="12.175" height="12.170" fill="#3860FF"/><rect x="262.02" y="363.50" width="12.175" height="12.170" fill="#3860FF"/><rect x="274.20" y="363.50" width="12.175" height="12.170" fill="#36A8FF"/><rect x="286.38" y="363.50" width="12.175" height="12.170" fill="url(#hatch)"/><rect x="298.55" y="363.50" width="12.175" height="12.170" fill="#95FEB3"/><rect x="310.73" y="363.50" width="12.175" height="12.170" fill="#95FEB3"/><rect x="322.90" y="363.50" width="12.175" height="12.170" fill="#00FFFF"/><rect x="335.08" y="363.50" width="12.175" height="12.170" fill="#95FEB3"/><rect x="347.25" y="363.50" width="12.175" height="12.170" fill="#FFFF00"/><rect x="359.43" y="363.50" width="12.175" height="12.170" fill="#FFFF00"/><rect x="371.60" y="363.50" width="12.175" height="12.170" fill="#FFFF00"/><rect x="383.77" y="363.50" width="12.175" height="12.170" fill="#36A8FF"/><rect x="395.95" y="363.50" width="12.175" height="12.170" fill="#3860FF"/><rect x="408.12" y="363.50" width="12.175" height="12.170" fill="#0000FF"/><rect x="420.30" y="363.50" width="12.175" height="12.170" fill="#3860FF"/><rect x="432.48" y="363.50" width="12.175" height="12.170" fill="#3860FF"/><rect x="444.65" y="363.50" width="12.175" height="12.170" fill="#36A8FF"/><rect x="456.83" y="363.50" width="12.175" height="12.170" fill="#00FFFF"/><rect x="469.00" y="363.50" width="12.175" height="12.170" fill="#36A8FF"/><rect x="481.18" y="363.50" width="12.175" height="12.170" fill="#95FEB3"/><rect x="493.35" y="363.50" width="12.175" height="12.170" fill="#95FEB3"/><rect x="505.52" y="363.50" width="12.175" height="12.170" fill="#D2FF64"/><rect x="517.70" y="363.50" width="12.175" height="12.170" fill="#D2FF64"/><rect x="529.88" y="363.50" width="12.175" height="12.170" fill="#D2FF64"/><rect x="542.05" y="363.50" width="12.175" height="12.170" fill="#FFFF00"/><rect x="554.23" y="363.50" width="12.175" height="12.170" fill="#FFFF00"/><rect x="566.40" y="363.50" width="12.175" height="12.170" fill="#FFFF00"/><rect x="578.58" y="363.50" width="12.175" height="12.170" fill="#FFFF00"/><rect x="590.75" y="363.50" width="12.175" height="12.170" fill="#D2FF64"/><rect x="602.93" y="363.50" width="12.175" height="12.170" fill="#FFFF00"/><rect x="615.10" y="363.50" width="12.175" height="12.170" fill="#FFFF00"/><rect x="627.27" y="363.50" width="12.175" height="12.170" fill="#FFB000"/><rect x="225.50" y="375.67" width="12.175" height="12.170" fill="#3860FF"/><rect x="262.02" y="375.67" width="12.175" height="12.170" fill="#36A8FF"/><rect x="274.20" y="375.67" width="12.175" height="12.170" fill="#3860FF"/><rect x="286.38" y="375.67" width="12.175" height="12.170" fill="#36A8FF"/><rect x="298.55" y="375.67" width="12.175" height="12.170" fill="#00FFFF"/><rect x="347.25" y="375.67" width="12.175" height="12.170" fill="#FFFF00"/><rect x="359.43" y="375.67" width="12.175" height="12.170" fill="#FFFF00"/><rect x="371.60" y="375.67" width="12.175" height="12.170" fill="#D2FF64"/><rect x="383.77" y="375.67" width="12.175" height="12.170" fill="#95FEB3"/><rect x="395.95" y="375.67" width="12.175" height="12.170" fill="#95FEB3"/><rect x="408.12" y="375.67" width="12.175" height="12.170" fill="#0000FF"/><rect x="420.30" y="375.67" width="12.175" height="12.170" fill="#3860FF"/><rect x="432.48" y="375.67" width="12.175" height="12.170" fill="#3860FF"/><rect x="444.65" y="375.67" width="12.175" height="12.170" fill="#36A8FF"/><rect x="456.83" y="375.67" width="12.175" height="12.170" fill="#00FFFF"/><rect x="469.00" y="375.67" width="12.175" height="12.170" fill="#00FFFF"/><rect x="481.18" y="375.67" width="12.175" height="12.170" fill="#00FFFF"/><rect x="493.35" y="375.67" width="12.175" height="12.170" fill="#D2FF64"/><rect x="505.52" y="375.67" width="12.175" height="12.170" fill="#D2FF64"/><rect x="517.70" y="375.67" width="12.175" height="12.170" fill="#D2FF64"/><rect x="529.88" y="375.67" width="12.175" height="12.170" fill="#FFFF00"/><rect x="542.05" y="375.67" width="12.175" height="12.170" fill="#FFFF00"/><rect x="554.23" y="375.67" width="12.175" height="12.170" fill="#D2FF64"/><rect x="566.40" y="375.67" width="12.175" height="12.170" fill="#D2FF64"/><rect x="578.58" y="375.67" width="12.175" height="12.170" fill="#D2FF64"/><rect x="590.75" y="375.67" width="12.175" height="12.170" fill="#D2FF64"/><rect x="602.93" y="375.67" width="12.175" height="12.170" fill="#D2FF64"/><rect x="615.10" y="375.67" width="12.175" height="12.170" fill="#D2FF64"/><rect x="347.25" y="387.84" width="12.175" height="12.170" fill="#D2FF64"/><rect x="359.43" y="387.84" width="12.175" height="12.170" fill="#D2FF64"/><rect x="371.60" y="387.84" width="12.175" height="12.170" fill="#00FFFF"/><rect x="383.77" y="387.84" width="12.175" height="12.170" fill="#00FFFF"/><rect x="395.95" y="387.84" width="12.175" height="12.170" fill="#00FFFF"/><rect x="408.12" y="387.84" width="12.175" height="12.170" fill="#0000FF"/><rect x="420.30" y="387.84" width="12.175" height="12.170" fill="#0000FF"/><rect x="432.48" y="387.84" width="12.175" height="12.170" fill="#3860FF"/><rect x="444.65" y="387.84" width="12.175" height="12.170" fill="#3860FF"/><rect x="456.83" y="387.84" width="12.175" height="12.170" fill="#36A8FF"/><rect x="469.00" y="387.84" width="12.175" height="12.170" fill="#00FFFF"/><rect x="481.18" y="387.84" width="12.175" height="12.170" fill="#95FEB3"/><rect x="493.35" y="387.84" width="12.175" height="12.170" fill="#95FEB3"/><rect x="505.52" y="387.84" width="12.175" height="12.170" fill="#95FEB3"/><rect x="517.70" y="387.84" width="12.175" height="12.170" fill="#95FEB3"/><rect x="529.88" y="387.84" width="12.175" height="12.170" fill="#D2FF64"/><rect x="542.05" y="387.84" width="12.175" height="12.170" fill="#D2FF64"/><rect x="554.23" y="387.84" width="12.175" height="12.170" fill="#D2FF64"/><rect x="566.40" y="387.84" width="12.175" height="12.170" fill="#D2FF64"/><rect x="578.58" y="387.84" width="12.175" height="12.170" fill="#D2FF64"/><rect x="590.75" y="387.84" width="12.175" height="12.170" fill="#D2FF64"/><rect x="602.93" y="387.84" width="12.175" height="12.170" fill="#D2FF64"/><rect x="335.08" y="400.01" width="12.175" height="12.170" fill="#00FFFF"/><rect x="347.25" y="400.01" width="12.175" height="12.170" fill="#00FFFF"/><rect x="359.43" y="400.01" width="12.175" height="12.170" fill="#00FFFF"/><rect x="371.60" y="400.01" width="12.175" height="12.170" fill="#00FFFF"/><rect x="383.77" y="400.01" width="12.175" height="12.170" fill="#00FFFF"/><rect x="395.95" y="400.01" width="12.175" height="12.170" fill="#00FFFF"/><rect x="408.12" y="400.01" width="12.175" height="12.170" fill="#36A8FF"/><rect x="420.30" y="400.01" width="12.175" height="12.170" fill="#0000FF"/><rect x="432.48" y="400.01" width="12.175" height="12.170" fill="#0000FF"/><rect x="444.65" y="400.01" width="12.175" height="12.170" fill="#3860FF"/><rect x="456.83" y="400.01" width="12.175" height="12.170" fill="#36A8FF"/><rect x="469.00" y="400.01" width="12.175" height="12.170" fill="#95FEB3"/><rect x="481.18" y="400.01" width="12.175" height="12.170" fill="#95FEB3"/><rect x="493.35" y="400.01" width="12.175" height="12.170" fill="#95FEB3"/><rect x="505.52" y="400.01" width="12.175" height="12.170" fill="#D2FF64"/><rect x="517.70" y="400.01" width="12.175" height="12.170" fill="#95FEB3"/><rect x="529.88" y="400.01" width="12.175" height="12.170" fill="#D2FF64"/><rect x="542.05" y="400.01" width="12.175" height="12.170" fill="#FFFF00"/><rect x="554.23" y="400.01" width="12.175" height="12.170" fill="#FFFF00"/><rect x="566.40" y="400.01" width="12.175" height="12.170" fill="#FFFF00"/><rect x="578.58" y="400.01" width="12.175" height="12.170" fill="#D2FF64"/><rect x="590.75" y="400.01" width="12.175" height="12.170" fill="#D2FF64"/><rect x="602.93" y="400.01" width="12.175" height="12.170" fill="#FFFF00"/><rect x="627.27" y="400.01" width="12.175" height="12.170" fill="#D2FF64"/><rect x="335.08" y="412.18" width="12.175" height="12.170" fill="#00FFFF"/><rect x="347.25" y="412.18" width="12.175" height="12.170" fill="#00FFFF"/><rect x="359.43" y="412.18" width="12.175" height="12.170" fill="#00FFFF"/><rect x="371.60" y="412.18" width="12.175" height="12.170" fill="#00FFFF"/><rect x="383.77" y="412.18" width="12.175" height="12.170" fill="#95FEB3"/><rect x="395.95" y="412.18" width="12.175" height="12.170" fill="#95FEB3"/><rect x="408.12" y="412.18" width="12.175" height="12.170" fill="#00FFFF"/><rect x="420.30" y="412.18" width="12.175" height="12.170" fill="#36A8FF"/><rect x="432.48" y="412.18" width="12.175" height="12.170" fill="#0000FF"/><rect x="444.65" y="412.18" width="12.175" height="12.170" fill="#3860FF"/><rect x="456.83" y="412.18" width="12.175" height="12.170" fill="#00FFFF"/><rect x="469.00" y="412.18" width="12.175" height="12.170" fill="#95FEB3"/><rect x="481.18" y="412.18" width="12.175" height="12.170" fill="#95FEB3"/><rect x="493.35" y="412.18" width="12.175" height="12.170" fill="#95FEB3"/><rect x="505.52" y="412.18" width="12.175" height="12.170" fill="#95FEB3"/><rect x="517.70" y="412.18" width="12.175" height="12.170" fill="#95FEB3"/><rect x="529.88" y="412.18" width="12.175" height="12.170" fill="#D2FF64"/><rect x="542.05" y="412.18" width="12.175" height="12.170" fill="#FFFF00"/><rect x="554.23" y="412.18" width="12.175" height="12.170" fill="#FFFF00"/><rect x="566.40" y="412.18" width="12.175" height="12.170" fill="#FFFF00"/><rect x="578.58" y="412.18" width="12.175" height="12.170" fill="#D2FF64"/><rect x="590.75" y="412.18" width="12.175" height="12.170" fill="#D2FF64"/><rect x="615.10" y="412.18" width="12.175" height="12.170" fill="#D2FF64"/><rect x="627.27" y="412.18" width="12.175" height="12.170" fill="#95FEB3"/><rect x="347.25" y="424.35" width="12.175" height="12.170" fill="#95FEB3"/><rect x="359.43" y="424.35" width="12.175" height="12.170" fill="#95FEB3"/><rect x="371.60" y="424.35" width="12.175" height="12.170" fill="#95FEB3"/><rect x="383.77" y="424.35" width="12.175" height="12.170" fill="#95FEB3"/><rect x="395.95" y="424.35" width="12.175" height="12.170" fill="#D2FF64"/><rect x="408.12" y="424.35" width="12.175" height="12.170" fill="#D2FF64"/><rect x="420.30" y="424.35" width="12.175" height="12.170" fill="#95FEB3"/><rect x="432.48" y="424.35" width="12.175" height="12.170" fill="#3860FF"/><rect x="444.65" y="424.35" width="12.175" height="12.170" fill="#3860FF"/><rect x="456.83" y="424.35" width="12.175" height="12.170" fill="#36A8FF"/><rect x="469.00" y="424.35" width="12.175" height="12.170" fill="#00FFFF"/><rect x="481.18" y="424.35" width="12.175" height="12.170" fill="#00FFFF"/><rect x="493.35" y="424.35" width="12.175" height="12.170" fill="#95FEB3"/><rect x="505.52" y="424.35" width="12.175" height="12.170" fill="#95FEB3"/><rect x="517.70" y="424.35" width="12.175" height="12.170" fill="#95FEB3"/><rect x="529.88" y="424.35" width="12.175" height="12.170" fill="#D2FF64"/><rect x="542.05" y="424.35" width="12.175" height="12.170" fill="#FFFF00"/><rect x="554.23" y="424.35" width="12.175" height="12.170" fill="#FFFF00"/><rect x="566.40" y="424.35" width="12.175" height="12.170" fill="#FFFF00"/><rect x="578.58" y="424.35" width="12.175" height="12.170" fill="#D2FF64"/><rect x="615.10" y="424.35" width="12.175" height="12.170" fill="#FF6E00"/><rect x="627.27" y="424.35" width="12.175" height="12.170" fill="#FFB000"/><rect x="359.43" y="436.52" width="12.175" height="12.170" fill="#D2FF64"/><rect x="371.60" y="436.52" width="12.175" height="12.170" fill="#95FEB3"/><rect x="383.77" y="436.52" width="12.175" height="12.170" fill="#95FEB3"/><rect x="395.95" y="436.52" width="12.175" height="12.170" fill="#D2FF64"/><rect x="408.12" y="436.52" width="12.175" height="12.170" fill="#D2FF64"/><rect x="420.30" y="436.52" width="12.175" height="12.170" fill="#95FEB3"/><rect x="432.48" y="436.52" width="12.175" height="12.170" fill="#3860FF"/><rect x="444.65" y="436.52" width="12.175" height="12.170" fill="#3860FF"/><rect x="456.83" y="436.52" width="12.175" height="12.170" fill="#36A8FF"/><rect x="469.00" y="436.52" width="12.175" height="12.170" fill="#36A8FF"/><rect x="481.18" y="436.52" width="12.175" height="12.170" fill="#00FFFF"/><rect x="493.35" y="436.52" width="12.175" height="12.170" fill="#00FFFF"/><rect x="505.52" y="436.52" width="12.175" height="12.170" fill="#95FEB3"/><rect x="517.70" y="436.52" width="12.175" height="12.170" fill="#95FEB3"/><rect x="529.88" y="436.52" width="12.175" height="12.170" fill="#D2FF64"/><rect x="542.05" y="436.52" width="12.175" height="12.170" fill="#FFFF00"/><rect x="554.23" y="436.52" width="12.175" height="12.170" fill="#FFFF00"/><rect x="566.40" y="436.52" width="12.175" height="12.170" fill="#FFFF00"/><rect x="615.10" y="436.52" width="12.175" height="12.170" fill="#FF6E00"/><rect x="627.27" y="436.52" width="12.175" height="12.170" fill="#FFB000"/><rect x="371.60" y="448.69" width="12.175" height="12.170" fill="#D2FF64"/><rect x="383.77" y="448.69" width="12.175" height="12.170" fill="#D2FF64"/><rect x="444.65" y="448.69" width="12.175" height="12.170" fill="#3860FF"/><rect x="456.83" y="448.69" width="12.175" height="12.170" fill="#36A8FF"/><rect x="469.00" y="448.69" width="12.175" height="12.170" fill="#36A8FF"/><rect x="481.18" y="448.69" width="12.175" height="12.170" fill="#00FFFF"/><rect x="493.35" y="448.69" width="12.175" height="12.170" fill="#36A8FF"/><rect x="505.52" y="448.69" width="12.175" height="12.170" fill="#00FFFF"/><rect x="517.70" y="448.69" width="12.175" height="12.170" fill="#D2FF64"/><rect x="529.88" y="448.69" width="12.175" height="12.170" fill="#D2FF64"/><rect x="481.18" y="460.86" width="12.175" height="12.170" fill="#00FFFF"/><rect x="493.35" y="460.86" width="12.175" height="12.170" fill="#D2FF64"/><rect x="469.00" y="473.03" width="12.175" height="12.170" fill="#D2FF64"/><rect x="481.18" y="473.03" width="12.175" height="12.170" fill="#D2FF64"/><rect x="493.35" y="473.03" width="12.175" height="12.170" fill="#D2FF64"/><rect x="469.00" y="485.20" width="12.175" height="12.170" fill="#95FEB3"/><rect x="481.18" y="485.20" width="12.175" height="12.170" fill="#D2FF64"/><rect x="493.35" y="485.20" width="12.175" height="12.170" fill="#D2FF64"/>
<path d="M42.87 47.08V509.54 M55.05 47.08V509.54 M67.22 47.08V509.54 M79.40 47.08V509.54 M91.57 47.08V509.54 M103.75 47.08V509.54 M115.92 47.08V509.54 M128.10 47.08V509.54 M140.28 47.08V509.54 M152.45 47.08V509.54 M164.62 47.08V509.54 M176.80 47.08V509.54 M188.97 47.08V509.54 M201.15 47.08V509.54 M213.32 47.08V509.54 M225.50 47.08V509.54 M237.68 47.08V509.54 M249.85 47.08V509.54 M262.02 47.08V509.54 M274.20 47.08V509.54 M286.38 47.08V509.54 M298.55 47.08V509.54 M310.73 47.08V509.54 M322.90 47.08V509.54 M335.08 47.08V509.54 M347.25 47.08V509.54 M359.43 47.08V509.54 M371.60 47.08V509.54 M383.77 47.08V509.54 M395.95 47.08V509.54 M408.12 47.08V509.54 M420.30 47.08V509.54 M432.48 47.08V509.54 M444.65 47.08V509.54 M456.83 47.08V509.54 M469.00 47.08V509.54 M481.18 47.08V509.54 M493.35 47.08V509.54 M505.52 47.08V509.54 M517.70 47.08V509.54 M529.88 47.08V509.54 M542.05 47.08V509.54 M554.23 47.08V509.54 M566.40 47.08V509.54 M578.58 47.08V509.54 M590.75 47.08V509.54 M602.93 47.08V509.54 M615.10 47.08V509.54 M627.27 47.08V509.54 M639.45 47.08V509.54 M651.62 47.08V509.54 M663.80 47.08V509.54 M675.98 47.08V509.54 M688.15 47.08V509.54 M700.33 47.08V509.54 M712.50 47.08V509.54 M724.68 47.08V509.54 M736.85 47.08V509.54 M749.03 47.08V509.54 M761.20 47.08V509.54 M773.38 47.08V509.54 M785.55 47.08V509.54 M797.73 47.08V509.54 M809.90 47.08V509.54 M42.87 509.54H809.90 M42.87 497.37H809.90 M42.87 485.20H809.90 M42.87 473.03H809.90 M42.87 460.86H809.90 M42.87 448.69H809.90 M42.87 436.52H809.90 M42.87 424.35H809.90 M42.87 412.18H809.90 M42.87 400.01H809.90 M42.87 387.84H809.90 M42.87 375.67H809.90 M42.87 363.50H809.90 M42.87 351.33H809.90 M42.87 339.16H809.90 M42.87 326.99H809.90 M42.87 314.82H809.90 M42.87 302.65H809.90 M42.87 290.48H809.90 M42.87 278.31H809.90 M42.87 266.14H809.90 M42.87 253.97H809.90 M42.87 241.80H809.90 M42.87 229.63H809.90 M42.87 217.46H809.90 M42.87 205.29H809.90 M42.87 193.12H809.90 M42.87 180.95H809.90 M42.87 168.78H809.90 M42.87 156.61H809.90 M42.87 144.44H809.90 M42.87 132.27H809.90 M42.87 120.10H809.90 M42.87 107.93H809.90 M42.87 95.76H809.90 M42.87 83.59H809.90 M42.87 71.42H809.90 M42.87 59.25H809.90 M42.87 47.08H809.90" stroke="#505050" stroke-opacity="0.5" stroke-width="1.4" fill="none"/>
</g>
<path d="M49.3 237.5 L53.1 236.3 L53.7 229.3 L60.1 226.8 L65.8 223.6 L70.2 224.2 L74.0 221.7 L76.6 224.9 L80.4 224.0 L86.7 221.7 L90.5 217.2 L96.8 216.6 L103.2 215.3 L107.0 213.4 L117.1 209.6 L127.3 205.8 L130.9 201.6 L130.4 196.7 L132.9 193.7 L136.4 190.7 L135.9 187.7 L133.9 184.7 L132.9 180.7 L130.9 175.8 L129.9 171.8 L126.4 169.3 L132.9 168.3 L138.9 166.8 L148.8 164.8 L156.8 165.8 L158.8 164.3 L155.8 159.9 L157.8 155.9 L160.8 150.9 L162.8 144.9 L164.8 141.9 L170.7 142.9 L178.7 143.9 L188.6 144.9 L193.7 143.3 L196.5 141.9 L196.9 137.8 L195.6 134.1 L195.1 131.3 L197.4 128.1 L202.0 126.7 L207.6 125.3 L209.9 123.0 L210.4 119.3 L211.3 118.3 L223.3 118.3 L223.8 122.0 L227.0 123.9 L231.7 127.1 L237.2 131.8 L243.7 132.2 L249.3 134.1 L253.9 137.8 L255.7 141.5 L260.4 145.2 L262.2 148.9 L261.3 153.5 L258.5 160.0 L260.4 164.6 L264.1 166.0 L274.7 167.8 L286.3 168.4 L294.4 170.1 L300.2 173.0 L307.1 176.5 L310.6 177.6 L315.2 177.0 L317.5 181.7 L319.9 186.3 L323.3 192.1 L328.0 195.6 L334.9 196.1 L345.8 197.2 L357.2 197.9 L365.7 197.9 L371.1 196.7 L382.2 197.4 L393.3 199.4 L397.5 202.2 L404.4 203.6 L412.8 205.7 L421.1 207.1 L428.1 208.5 L432.2 209.9 L437.8 207.8 L446.1 204.3 L453.9 201.4 L462.2 200.0 L471.9 200.0 L481.7 199.3 L488.6 197.9 L496.9 195.1 L501.1 191.7 L505.3 188.9 L513.6 186.8 L517.1 184.0 L513.6 181.9 L510.8 177.1 L512.2 172.2 L515.7 168.8 L520.6 168.1 L526.1 169.4 L531.7 170.8 L537.2 170.8 L544.2 168.1 L548.3 163.9 L553.9 163.2 L563.2 164.0 L568.9 158.3 L573.1 152.6 L580.3 151.1 L588.8 148.3 L597.3 147.6 L610.1 147.6 L613.0 146.9 L610.1 144.0 L605.9 139.8 L600.2 135.5 L593.1 132.6 L584.5 134.1 L580.3 135.5 L571.7 134.1 L563.2 135.5 L561.0 131.2 L566.0 125.5 L570.3 115.6 L574.6 110.6 L580.3 111.3 L585.9 112.7 L588.8 112.0 L597.3 107.7 L602.3 106.7 L604.6 103.2 L606.9 98.6 L611.6 92.8 L615.0 87.0 L622.0 81.3 L623.1 77.8 L619.7 76.6 L615.0 76.0 L615.0 74.3 L619.1 72.0 L623.1 68.5 L628.9 67.4 L638.2 66.2 L647.6 65.2 L655.3 64.2 L662.9 65.8 L668.0 67.7 L675.6 69.0 L682.0 70.3 L687.1 74.1 L690.9 77.9 L694.7 82.4 L697.3 87.5 L699.8 93.2 L702.4 98.3 L705.6 103.4 L707.5 108.5 L711.3 112.3 L718.9 112.9 L726.6 114.2 L732.9 116.1 L736.8 119.3 L741.8 120.6 L744.1 122.2 L745.8 126.6 L746.9 131.0 L749.1 134.8 L753.5 135.4 L761.2 135.4 L768.9 133.2 L774.4 130.4 L781.0 129.3 L786.5 128.2 L794.2 127.7 L799.1 127.1 L796.4 128.8 L793.1 132.1 L794.2 135.4 L792.0 139.8 L787.0 143.1 L785.4 151.9 L781.0 158.5 L776.6 164.0 L774.4 168.4 L766.7 166.7 L761.2 165.1 L759.0 166.2 L752.4 168.4 L750.2 170.6 L752.4 177.2 L752.9 186.0 L751.3 192.6 L748.0 195.9 L744.7 197.0 L744.1 199.7 L740.3 197.0 L735.3 195.9 L731.5 200.3 L728.5 200.6 L725.4 203.8 L719.2 205.3 L714.0 205.8 L716.0 209.5 L715.0 212.6 L708.8 212.1 L702.5 211.0 L699.4 208.4 L696.3 209.0 L692.1 214.2 L687.9 217.8 L681.7 220.4 L675.4 222.5 L669.2 227.7 L664.0 231.9 L655.6 232.9 L648.3 236.0 L641.0 240.0 L636.7 241.7 L629.3 245.4 L628.3 243.1 L631.1 241.2 L633.9 239.8 L631.1 238.0 L630.2 235.2 L633.0 232.4 L636.7 229.6 L640.4 226.9 L641.3 223.1 L636.7 218.5 L629.3 219.0 L625.6 221.3 L621.9 225.0 L618.1 227.8 L611.7 229.6 L607.0 232.4 L605.2 237.0 L600.6 240.7 L595.9 241.7 L588.5 240.7 L586.2 245.4 L587.6 250.0 L592.2 252.3 L597.0 252.5 L602.6 253.9 L604.4 256.2 L602.1 259.0 L602.6 262.2 L607.2 264.5 L612.8 264.1 L615.6 260.4 L619.3 257.1 L623.0 255.7 L625.7 254.4 L626.7 252.0 L628.5 257.1 L634.1 259.4 L639.6 259.9 L646.1 260.8 L646.1 265.0 L643.3 267.8 L638.7 267.8 L633.1 269.6 L625.7 271.5 L622.0 275.2 L617.4 277.0 L614.6 279.8 L609.1 285.4 L605.4 290.5 L607.2 292.8 L611.9 295.6 L616.5 297.4 L619.3 301.1 L622.3 308.1 L627.4 319.3 L631.4 321.3 L633.5 324.3 L637.5 327.9 L639.0 330.4 L638.5 334.5 L639.0 339.6 L633.5 342.6 L630.4 344.6 L632.5 347.7 L637.5 349.7 L639.6 352.7 L636.5 356.8 L633.5 360.9 L634.5 364.9 L632.5 370.0 L628.2 374.2 L624.7 378.8 L620.2 383.3 L615.6 387.9 L612.2 391.3 L610.5 397.0 L608.8 401.6 L605.3 407.3 L600.8 413.0 L592.8 418.7 L586.0 423.2 L580.3 427.8 L577.2 430.8 L571.7 437.1 L563.3 439.2 L552.2 440.6 L545.3 446.1 L541.1 444.7 L538.3 440.6 L536.9 444.0 L528.6 448.2 L520.3 450.3 L515.4 453.6 L509.8 454.5 L505.2 456.9 L501.5 457.8 L500.6 459.6 L497.8 461.9 L499.6 464.3 L500.6 467.0 L498.7 469.4 L493.1 469.8 L491.3 467.5 L489.4 464.3 L489.0 460.6 L490.4 455.5 L486.7 453.6 L482.0 455.0 L480.2 453.1 L475.6 451.8 L468.1 454.1 L459.8 452.7 L456.1 449.9 L452.9 448.5 L451.9 443.9 L451.5 440.2 L448.7 437.9 L445.0 436.5 L440.6 436.2 L436.0 433.3 L430.2 437.4 L424.4 439.1 L419.8 441.4 L412.9 439.7 L408.2 442.0 L401.3 440.3 L395.5 443.1 L392.0 444.3 L393.2 453.6 L392.6 458.8 L386.3 457.0 L383.9 452.4 L378.1 454.7 L372.4 453.6 L370.0 448.4 L361.4 446.6 L363.1 442.0 L364.8 436.8 L359.6 434.5 L357.3 429.3 L356.1 424.7 L351.0 424.1 L346.0 425.3 L342.2 425.3 L343.4 422.2 L341.5 418.4 L342.2 414.6 L344.1 410.8 L346.0 408.2 L348.5 405.1 L352.3 403.2 L355.5 398.1 L356.1 389.2 L354.8 382.2 L351.0 381.0 L348.5 377.2 L345.3 372.7 L342.8 369.6 L340.9 371.5 L338.4 376.5 L335.8 378.4 L329.5 375.3 L321.9 372.7 L316.8 373.4 L313.0 375.9 L306.7 379.1 L300.3 382.2 L297.2 386.0 L294.0 388.6 L282.6 389.2 L275.3 388.6 L274.7 382.8 L271.8 381.7 L269.5 378.2 L266.0 375.9 L259.1 377.0 L249.8 373.6 L245.2 374.1 L239.4 378.2 L238.8 382.8 L236.5 384.6 L234.8 379.4 L233.6 375.9 L223.2 377.0 L213.9 377.0 L208.1 375.3 L203.5 375.9 L200.0 374.7 L194.3 371.3 L189.6 368.9 L185.0 367.8 L181.3 364.4 L177.5 360.6 L171.1 360.0 L166.0 354.9 L161.0 352.4 L155.9 349.2 L152.1 346.7 L145.8 346.7 L142.6 350.5 L138.2 346.0 L131.8 344.1 L126.8 341.0 L120.4 339.1 L115.3 337.8 L112.8 332.1 L112.2 327.0 L109.0 324.5 L108.4 320.7 L110.9 318.8 L112.8 322.0 L116.6 321.3 L118.5 317.5 L116.0 311.8 L113.4 308.0 L112.2 304.2 L113.4 301.7 L115.3 299.2 L110.9 295.3 L106.5 294.1 L105.8 289.0 L103.3 284.6 L97.6 282.7 L90.0 282.0 L86.7 281.3 L79.7 278.7 L79.1 271.1 L72.8 267.3 L67.1 266.0 L61.3 265.4 L61.3 263.5 L65.8 262.9 L67.1 261.0 L65.8 250.8 L61.3 248.3 L55.0 247.7 L52.5 245.8 L51.2 240.1Z M476.9 481.4 L482.0 476.3 L486.7 473.5 L493.1 472.6 L500.6 472.1 L504.3 473.5 L505.2 477.2 L502.4 481.9 L498.7 488.3 L494.1 492.0 L488.5 494.8 L482.0 493.9 L477.4 491.1 L476.5 485.6Z M633.5 408.7 L638.8 410.6 L639.2 413.3 L637.3 417.8 L635.0 425.4 L632.7 433.0 L630.4 437.6 L627.4 440.6 L625.9 445.2 L625.1 449.4 L623.6 449.4 L622.8 445.2 L618.3 442.1 L616.7 437.6 L614.8 434.5 L616.7 427.7 L619.8 422.4 L622.8 417.1 L627.4 411.7 L630.4 409.4Z" fill="none" stroke="#555" stroke-width="1.1" stroke-linejoin="round"/>
<path d="M639.6 352.7 L636.5 356.8 L633.5 360.9 L634.5 364.9 L632.5 370.0 L628.2 374.2 L624.7 378.8 L620.2 383.3 L615.6 387.9 L612.2 391.3 L610.5 397.0 L608.8 401.6 L605.3 407.3 L600.8 413.0 L592.8 418.7 L586.0 423.2 L580.3 427.8 L577.2 430.8 L571.7 437.1 M541.5 444.1 L538.5 441.0 L537.0 446.0 L531.0 449.0 L527.0 451.0 L520.0 452.0" fill="none" stroke="#707070" stroke-width="3.0" stroke-linejoin="round" stroke-linecap="round"/>
<path d="M640.0 343.0 L646.0 341.0 L650.0 343.0 L647.0 346.0 L643.0 347.0Z M642.0 348.0 L646.0 349.0 L644.0 352.0 L641.0 351.0Z" fill="#777" stroke="#666" stroke-width="0.8"/>
<path d="M485.2 520.4L491.6 531.8M603.1 521.7L603.1 534.4M608.2 496.3L612.0 490.0M496.6 568.6L494.1 580.0M601.9 571.2L596.8 583.8M568.9 619.3L560.0 629.5M515.7 675.1L528.3 671.3M470.0 632.0L472.5 642.2M648.6 417.3L645.4 431.5M637.9 452.4L628.7 463.0M615.2 485.6L608.6 497.1" stroke="#333" stroke-width="1.2" fill="none"/>
<g fill="#333"><circle cx="545.3" cy="577.5" r="0.9"/><circle cx="543.9" cy="583.1" r="0.9"/><circle cx="547.4" cy="586.5" r="0.9"/><circle cx="552.9" cy="582.4" r="0.9"/><circle cx="548.1" cy="590.7" r="0.9"/><circle cx="545.3" cy="592.8" r="0.9"/><circle cx="539.7" cy="594.2" r="0.9"/><circle cx="536.9" cy="591.4" r="0.9"/><circle cx="546.7" cy="596.9" r="0.9"/><circle cx="528.6" cy="599.7" r="0.9"/><circle cx="563.3" cy="585.1" r="0.9"/><circle cx="568.9" cy="587.2" r="0.9"/><circle cx="576.5" cy="581.7" r="0.9"/><circle cx="582.1" cy="586.5" r="0.9"/><circle cx="587.6" cy="585.1" r="0.9"/><circle cx="563.3" cy="588.6" r="0.9"/><circle cx="572.4" cy="590.7" r="0.9"/><circle cx="557.8" cy="592.1" r="0.9"/><circle cx="560.6" cy="596.2" r="0.9"/><circle cx="565.4" cy="598.3" r="0.9"/><circle cx="571.7" cy="597.6" r="0.9"/><circle cx="582.8" cy="593.5" r="0.9"/><circle cx="559.2" cy="602.5" r="0.9"/><circle cx="564.7" cy="602.5" r="0.9"/><circle cx="568.9" cy="600.4" r="0.9"/><circle cx="577.2" cy="601.8" r="0.9"/><circle cx="571.0" cy="605.3" r="0.9"/><circle cx="574.4" cy="606.7" r="0.9"/><circle cx="569.6" cy="608.1" r="0.9"/><circle cx="513.3" cy="610.8" r="0.9"/><circle cx="516.8" cy="611.5" r="0.9"/><circle cx="521.0" cy="608.8" r="0.9"/><circle cx="524.4" cy="609.4" r="0.9"/><circle cx="527.9" cy="608.1" r="0.9"/><circle cx="538.3" cy="607.4" r="0.9"/><circle cx="542.5" cy="609.4" r="0.9"/><circle cx="544.6" cy="610.1" r="0.9"/><circle cx="549.4" cy="609.2" r="0.9"/><circle cx="556.4" cy="614.3" r="0.9"/><circle cx="548.1" cy="617.1" r="0.9"/><circle cx="550.8" cy="617.1" r="0.9"/><circle cx="533.5" cy="617.1" r="0.9"/><circle cx="528.6" cy="621.2" r="0.9"/><circle cx="541.1" cy="618.5" r="0.9"/><circle cx="540.4" cy="623.3" r="0.9"/><circle cx="539.7" cy="626.1" r="0.9"/><circle cx="536.9" cy="632.4" r="0.9"/><circle cx="513.3" cy="621.2" r="0.9"/><circle cx="512.6" cy="624.7" r="0.9"/><circle cx="499.4" cy="618.5" r="0.9"/><circle cx="495.3" cy="615.0" r="0.9"/><circle cx="493.2" cy="619.9" r="0.9"/><circle cx="489.7" cy="625.4" r="0.9"/><circle cx="498.1" cy="621.9" r="0.9"/><circle cx="532.1" cy="639.3" r="0.9"/><circle cx="511.1" cy="508.2" r="0.9"/><circle cx="520.8" cy="511.0" r="0.9"/><circle cx="525.7" cy="514.4" r="0.9"/><circle cx="513.2" cy="515.8" r="0.9"/><circle cx="517.4" cy="517.2" r="0.9"/><circle cx="513.9" cy="520.0" r="0.9"/><circle cx="524.3" cy="521.1" r="0.9"/><circle cx="507.6" cy="524.2" r="0.9"/><circle cx="575.0" cy="517.9" r="0.9"/><circle cx="587.5" cy="532.5" r="0.9"/><circle cx="523.3" cy="645.0" r="0.9"/><circle cx="523.3" cy="649.0" r="0.9"/><circle cx="608.0" cy="429.0" r="0.9"/><circle cx="611.0" cy="431.0" r="0.9"/><circle cx="609.0" cy="433.0" r="0.9"/><circle cx="632.5" cy="441.0" r="0.9"/><circle cx="633.5" cy="447.0" r="0.9"/><circle cx="659.0" cy="401.0" r="0.9"/><circle cx="657.0" cy="403.0" r="0.9"/><circle cx="520.0" cy="669.5" r="0.9"/><circle cx="524.0" cy="670.0" r="0.9"/><circle cx="575.7" cy="464.9" r="0.9"/><circle cx="643.0" cy="358.0" r="0.9"/><circle cx="639.0" cy="366.0" r="0.9"/><circle cx="636.0" cy="373.0" r="0.9"/><circle cx="629.0" cy="381.0" r="0.9"/><circle cx="623.0" cy="390.0" r="0.9"/><circle cx="617.0" cy="398.0" r="0.9"/><circle cx="614.0" cy="405.0" r="0.9"/><circle cx="608.0" cy="413.0" r="0.9"/></g>
<path d="M538.9 527.0 L541.7 522.8 L547.2 520.0 L552.1 519.3 L553.5 521.4 L550.0 525.6 L544.4 528.3 L541.0 529.0Z" fill="none" stroke="#444" stroke-width="1"/>
<path d="M133.4 49.3v6.6 M133.4 77.1v6.6 M133.4 104.9v6.6 M133.4 132.7v6.6 M133.4 160.5v6.6 M133.4 188.3v6.6 M133.4 216.1v6.6 M133.4 243.9v6.6 M133.4 271.7v6.6 M133.4 299.5v6.6 M133.4 327.3v6.6 M133.4 355.1v6.6 M133.4 382.9v6.6 M133.4 410.7v6.6 M133.4 438.5v6.6 M133.4 466.3v6.6 M133.4 494.1v6.6 M133.4 521.9v6.6 M133.4 549.7v6.6 M133.4 577.5v6.6 M133.4 605.3v6.6 M133.4 633.1v6.6 M133.4 660.9v6.6 M133.4 688.7v4.8 M255.2 49.3v6.6 M255.2 77.1v6.6 M255.2 104.9v6.6 M255.2 132.7v6.6 M255.2 160.5v6.6 M255.2 188.3v6.6 M255.2 216.1v6.6 M255.2 243.9v6.6 M255.2 271.7v6.6 M255.2 299.5v6.6 M255.2 327.3v6.6 M255.2 355.1v6.6 M255.2 382.9v6.6 M255.2 410.7v6.6 M255.2 438.5v6.6 M255.2 466.3v6.6 M255.2 494.1v6.6 M255.2 521.9v6.6 M255.2 549.7v6.6 M255.2 577.5v6.6 M255.2 605.3v6.6 M255.2 633.1v6.6 M255.2 660.9v6.6 M255.2 688.7v4.8 M377.0 49.3v6.6 M377.0 77.1v6.6 M377.0 104.9v6.6 M377.0 132.7v6.6 M377.0 160.5v6.6 M377.0 188.3v6.6 M377.0 216.1v6.6 M377.0 243.9v6.6 M377.0 271.7v6.6 M377.0 299.5v6.6 M377.0 327.3v6.6 M377.0 355.1v6.6 M377.0 382.9v6.6 M377.0 410.7v6.6 M377.0 438.5v6.6 M377.0 466.3v6.6 M377.0 494.1v6.6 M377.0 521.9v6.6 M377.0 549.7v6.6 M377.0 577.5v6.6 M377.0 605.3v6.6 M377.0 633.1v6.6 M377.0 660.9v6.6 M377.0 688.7v4.8 M498.8 49.3v6.6 M498.8 77.1v6.6 M498.8 104.9v6.6 M498.8 132.7v6.6 M498.8 160.5v6.6 M498.8 188.3v6.6 M498.8 216.1v6.6 M498.8 243.9v6.6 M498.8 271.7v6.6 M498.8 299.5v6.6 M498.8 327.3v6.6 M498.8 355.1v6.6 M498.8 382.9v6.6 M498.8 410.7v6.6 M498.8 438.5v6.6 M498.8 466.3v6.6 M498.8 494.1v6.6 M498.8 521.9v6.6 M498.8 549.7v6.6 M498.8 577.5v6.6 M498.8 605.3v6.6 M498.8 633.1v6.6 M498.8 660.9v6.6 M498.8 688.7v4.8 M620.6 49.3v6.6 M620.6 77.1v6.6 M620.6 104.9v6.6 M620.6 132.7v6.6 M620.6 160.5v6.6 M620.6 188.3v6.6 M620.6 216.1v6.6 M620.6 243.9v6.6 M620.6 271.7v6.6 M620.6 299.5v6.6 M620.6 327.3v6.6 M620.6 355.1v6.6 M620.6 382.9v6.6 M620.6 410.7v6.6 M620.6 438.5v6.6 M620.6 466.3v6.6 M620.6 494.1v6.6 M620.6 521.9v6.6 M620.6 549.7v6.6 M620.6 577.5v6.6 M620.6 605.3v6.6 M620.6 633.1v6.6 M620.6 660.9v6.6 M620.6 688.7v4.8 M742.4 49.3v6.6 M742.4 77.1v6.6 M742.4 104.9v6.6 M742.4 132.7v6.6 M742.4 160.5v6.6 M742.4 188.3v6.6 M742.4 216.1v6.6 M742.4 243.9v6.6 M742.4 271.7v6.6 M742.4 299.5v6.6 M742.4 327.3v6.6 M742.4 355.1v6.6 M742.4 382.9v6.6 M742.4 410.7v6.6 M742.4 438.5v6.6 M742.4 466.3v6.6 M742.4 494.1v6.6 M742.4 521.9v6.6 M742.4 549.7v6.6 M742.4 577.5v6.6 M742.4 605.3v6.6 M742.4 633.1v6.6 M742.4 660.9v6.6 M742.4 688.7v4.8 M60.9 606.0h6.9 M88.7 606.0h6.9 M116.5 606.0h6.9 M144.3 606.0h6.9 M172.1 606.0h6.9 M199.9 606.0h6.9 M227.7 606.0h6.9 M255.5 606.0h6.9 M283.3 606.0h6.9 M311.1 606.0h6.9 M338.9 606.0h6.9 M366.7 606.0h6.9 M394.5 606.0h6.9 M422.3 606.0h6.9 M450.1 606.0h6.9 M477.9 606.0h6.9 M505.7 606.0h6.9 M533.5 606.0h6.9 M561.3 606.0h6.9 M589.1 606.0h6.9 M616.9 606.0h6.9 M644.7 606.0h6.9 M672.5 606.0h6.9 M700.3 606.0h6.9 M728.1 606.0h6.9 M755.9 606.0h6.9 M783.7 606.0h6.9 M811.5 606.0h6.9 M60.9 484.3h6.9 M88.7 484.3h6.9 M116.5 484.3h6.9 M144.3 484.3h6.9 M172.1 484.3h6.9 M199.9 484.3h6.9 M227.7 484.3h6.9 M255.5 484.3h6.9 M283.3 484.3h6.9 M311.1 484.3h6.9 M338.9 484.3h6.9 M366.7 484.3h6.9 M394.5 484.3h6.9 M422.3 484.3h6.9 M450.1 484.3h6.9 M477.9 484.3h6.9 M505.7 484.3h6.9 M533.5 484.3h6.9 M561.3 484.3h6.9 M589.1 484.3h6.9 M616.9 484.3h6.9 M644.7 484.3h6.9 M672.5 484.3h6.9 M700.3 484.3h6.9 M728.1 484.3h6.9 M755.9 484.3h6.9 M783.7 484.3h6.9 M811.5 484.3h6.9 M60.9 362.6h6.9 M88.7 362.6h6.9 M116.5 362.6h6.9 M144.3 362.6h6.9 M172.1 362.6h6.9 M199.9 362.6h6.9 M227.7 362.6h6.9 M255.5 362.6h6.9 M283.3 362.6h6.9 M311.1 362.6h6.9 M338.9 362.6h6.9 M366.7 362.6h6.9 M394.5 362.6h6.9 M422.3 362.6h6.9 M450.1 362.6h6.9 M477.9 362.6h6.9 M505.7 362.6h6.9 M533.5 362.6h6.9 M561.3 362.6h6.9 M589.1 362.6h6.9 M616.9 362.6h6.9 M644.7 362.6h6.9 M672.5 362.6h6.9 M700.3 362.6h6.9 M728.1 362.6h6.9 M755.9 362.6h6.9 M783.7 362.6h6.9 M811.5 362.6h6.9 M60.9 240.9h6.9 M88.7 240.9h6.9 M116.5 240.9h6.9 M144.3 240.9h6.9 M172.1 240.9h6.9 M199.9 240.9h6.9 M227.7 240.9h6.9 M255.5 240.9h6.9 M283.3 240.9h6.9 M311.1 240.9h6.9 M338.9 240.9h6.9 M366.7 240.9h6.9 M394.5 240.9h6.9 M422.3 240.9h6.9 M450.1 240.9h6.9 M477.9 240.9h6.9 M505.7 240.9h6.9 M533.5 240.9h6.9 M561.3 240.9h6.9 M589.1 240.9h6.9 M616.9 240.9h6.9 M644.7 240.9h6.9 M672.5 240.9h6.9 M700.3 240.9h6.9 M728.1 240.9h6.9 M755.9 240.9h6.9 M783.7 240.9h6.9 M811.5 240.9h6.9 M60.9 119.2h6.9 M88.7 119.2h6.9 M116.5 119.2h6.9 M144.3 119.2h6.9 M172.1 119.2h6.9 M199.9 119.2h6.9 M227.7 119.2h6.9 M255.5 119.2h6.9 M283.3 119.2h6.9 M311.1 119.2h6.9 M338.9 119.2h6.9 M366.7 119.2h6.9 M394.5 119.2h6.9 M422.3 119.2h6.9 M450.1 119.2h6.9 M477.9 119.2h6.9 M505.7 119.2h6.9 M533.5 119.2h6.9 M561.3 119.2h6.9 M589.1 119.2h6.9 M616.9 119.2h6.9 M644.7 119.2h6.9 M672.5 119.2h6.9 M700.3 119.2h6.9 M728.1 119.2h6.9 M755.9 119.2h6.9 M783.7 119.2h6.9 M811.5 119.2h6.9" stroke="#c2c2c2" stroke-width="1.25" fill="none" clip-path="url(#ocn)"/>
<path d="M133.4 49.3v6.6 M133.4 77.1v6.6 M133.4 104.9v6.6 M133.4 132.7v6.6 M133.4 160.5v6.6 M133.4 188.3v6.6 M133.4 216.1v6.6 M133.4 243.9v6.6 M133.4 271.7v6.6 M133.4 299.5v6.6 M133.4 327.3v6.6 M133.4 355.1v6.6 M133.4 382.9v6.6 M133.4 410.7v6.6 M133.4 438.5v6.6 M133.4 466.3v6.6 M133.4 494.1v6.6 M133.4 521.9v6.6 M133.4 549.7v6.6 M133.4 577.5v6.6 M133.4 605.3v6.6 M133.4 633.1v6.6 M133.4 660.9v6.6 M133.4 688.7v4.8 M255.2 49.3v6.6 M255.2 77.1v6.6 M255.2 104.9v6.6 M255.2 132.7v6.6 M255.2 160.5v6.6 M255.2 188.3v6.6 M255.2 216.1v6.6 M255.2 243.9v6.6 M255.2 271.7v6.6 M255.2 299.5v6.6 M255.2 327.3v6.6 M255.2 355.1v6.6 M255.2 382.9v6.6 M255.2 410.7v6.6 M255.2 438.5v6.6 M255.2 466.3v6.6 M255.2 494.1v6.6 M255.2 521.9v6.6 M255.2 549.7v6.6 M255.2 577.5v6.6 M255.2 605.3v6.6 M255.2 633.1v6.6 M255.2 660.9v6.6 M255.2 688.7v4.8 M377.0 49.3v6.6 M377.0 77.1v6.6 M377.0 104.9v6.6 M377.0 132.7v6.6 M377.0 160.5v6.6 M377.0 188.3v6.6 M377.0 216.1v6.6 M377.0 243.9v6.6 M377.0 271.7v6.6 M377.0 299.5v6.6 M377.0 327.3v6.6 M377.0 355.1v6.6 M377.0 382.9v6.6 M377.0 410.7v6.6 M377.0 438.5v6.6 M377.0 466.3v6.6 M377.0 494.1v6.6 M377.0 521.9v6.6 M377.0 549.7v6.6 M377.0 577.5v6.6 M377.0 605.3v6.6 M377.0 633.1v6.6 M377.0 660.9v6.6 M377.0 688.7v4.8 M498.8 49.3v6.6 M498.8 77.1v6.6 M498.8 104.9v6.6 M498.8 132.7v6.6 M498.8 160.5v6.6 M498.8 188.3v6.6 M498.8 216.1v6.6 M498.8 243.9v6.6 M498.8 271.7v6.6 M498.8 299.5v6.6 M498.8 327.3v6.6 M498.8 355.1v6.6 M498.8 382.9v6.6 M498.8 410.7v6.6 M498.8 438.5v6.6 M498.8 466.3v6.6 M498.8 494.1v6.6 M498.8 521.9v6.6 M498.8 549.7v6.6 M498.8 577.5v6.6 M498.8 605.3v6.6 M498.8 633.1v6.6 M498.8 660.9v6.6 M498.8 688.7v4.8 M620.6 49.3v6.6 M620.6 77.1v6.6 M620.6 104.9v6.6 M620.6 132.7v6.6 M620.6 160.5v6.6 M620.6 188.3v6.6 M620.6 216.1v6.6 M620.6 243.9v6.6 M620.6 271.7v6.6 M620.6 299.5v6.6 M620.6 327.3v6.6 M620.6 355.1v6.6 M620.6 382.9v6.6 M620.6 410.7v6.6 M620.6 438.5v6.6 M620.6 466.3v6.6 M620.6 494.1v6.6 M620.6 521.9v6.6 M620.6 549.7v6.6 M620.6 577.5v6.6 M620.6 605.3v6.6 M620.6 633.1v6.6 M620.6 660.9v6.6 M620.6 688.7v4.8 M742.4 49.3v6.6 M742.4 77.1v6.6 M742.4 104.9v6.6 M742.4 132.7v6.6 M742.4 160.5v6.6 M742.4 188.3v6.6 M742.4 216.1v6.6 M742.4 243.9v6.6 M742.4 271.7v6.6 M742.4 299.5v6.6 M742.4 327.3v6.6 M742.4 355.1v6.6 M742.4 382.9v6.6 M742.4 410.7v6.6 M742.4 438.5v6.6 M742.4 466.3v6.6 M742.4 494.1v6.6 M742.4 521.9v6.6 M742.4 549.7v6.6 M742.4 577.5v6.6 M742.4 605.3v6.6 M742.4 633.1v6.6 M742.4 660.9v6.6 M742.4 688.7v4.8 M60.9 606.0h6.9 M88.7 606.0h6.9 M116.5 606.0h6.9 M144.3 606.0h6.9 M172.1 606.0h6.9 M199.9 606.0h6.9 M227.7 606.0h6.9 M255.5 606.0h6.9 M283.3 606.0h6.9 M311.1 606.0h6.9 M338.9 606.0h6.9 M366.7 606.0h6.9 M394.5 606.0h6.9 M422.3 606.0h6.9 M450.1 606.0h6.9 M477.9 606.0h6.9 M505.7 606.0h6.9 M533.5 606.0h6.9 M561.3 606.0h6.9 M589.1 606.0h6.9 M616.9 606.0h6.9 M644.7 606.0h6.9 M672.5 606.0h6.9 M700.3 606.0h6.9 M728.1 606.0h6.9 M755.9 606.0h6.9 M783.7 606.0h6.9 M811.5 606.0h6.9 M60.9 484.3h6.9 M88.7 484.3h6.9 M116.5 484.3h6.9 M144.3 484.3h6.9 M172.1 484.3h6.9 M199.9 484.3h6.9 M227.7 484.3h6.9 M255.5 484.3h6.9 M283.3 484.3h6.9 M311.1 484.3h6.9 M338.9 484.3h6.9 M366.7 484.3h6.9 M394.5 484.3h6.9 M422.3 484.3h6.9 M450.1 484.3h6.9 M477.9 484.3h6.9 M505.7 484.3h6.9 M533.5 484.3h6.9 M561.3 484.3h6.9 M589.1 484.3h6.9 M616.9 484.3h6.9 M644.7 484.3h6.9 M672.5 484.3h6.9 M700.3 484.3h6.9 M728.1 484.3h6.9 M755.9 484.3h6.9 M783.7 484.3h6.9 M811.5 484.3h6.9 M60.9 362.6h6.9 M88.7 362.6h6.9 M116.5 362.6h6.9 M144.3 362.6h6.9 M172.1 362.6h6.9 M199.9 362.6h6.9 M227.7 362.6h6.9 M255.5 362.6h6.9 M283.3 362.6h6.9 M311.1 362.6h6.9 M338.9 362.6h6.9 M366.7 362.6h6.9 M394.5 362.6h6.9 M422.3 362.6h6.9 M450.1 362.6h6.9 M477.9 362.6h6.9 M505.7 362.6h6.9 M533.5 362.6h6.9 M561.3 362.6h6.9 M589.1 362.6h6.9 M616.9 362.6h6.9 M644.7 362.6h6.9 M672.5 362.6h6.9 M700.3 362.6h6.9 M728.1 362.6h6.9 M755.9 362.6h6.9 M783.7 362.6h6.9 M811.5 362.6h6.9 M60.9 240.9h6.9 M88.7 240.9h6.9 M116.5 240.9h6.9 M144.3 240.9h6.9 M172.1 240.9h6.9 M199.9 240.9h6.9 M227.7 240.9h6.9 M255.5 240.9h6.9 M283.3 240.9h6.9 M311.1 240.9h6.9 M338.9 240.9h6.9 M366.7 240.9h6.9 M394.5 240.9h6.9 M422.3 240.9h6.9 M450.1 240.9h6.9 M477.9 240.9h6.9 M505.7 240.9h6.9 M533.5 240.9h6.9 M561.3 240.9h6.9 M589.1 240.9h6.9 M616.9 240.9h6.9 M644.7 240.9h6.9 M672.5 240.9h6.9 M700.3 240.9h6.9 M728.1 240.9h6.9 M755.9 240.9h6.9 M783.7 240.9h6.9 M811.5 240.9h6.9 M60.9 119.2h6.9 M88.7 119.2h6.9 M116.5 119.2h6.9 M144.3 119.2h6.9 M172.1 119.2h6.9 M199.9 119.2h6.9 M227.7 119.2h6.9 M255.5 119.2h6.9 M283.3 119.2h6.9 M311.1 119.2h6.9 M338.9 119.2h6.9 M366.7 119.2h6.9 M394.5 119.2h6.9 M422.3 119.2h6.9 M450.1 119.2h6.9 M477.9 119.2h6.9 M505.7 119.2h6.9 M533.5 119.2h6.9 M561.3 119.2h6.9 M589.1 119.2h6.9 M616.9 119.2h6.9 M644.7 119.2h6.9 M672.5 119.2h6.9 M700.3 119.2h6.9 M728.1 119.2h6.9 M755.9 119.2h6.9 M783.7 119.2h6.9 M811.5 119.2h6.9" stroke="#bdbdbd" stroke-width="1.0" fill="none" opacity="0.45" clip-path="url(#cn)"/>
<path d="M133.4 37.5v5.3M133.4 695.5v-5.3 M255.2 37.5v5.3M255.2 695.5v-5.3 M377.0 37.5v5.3M377.0 695.5v-5.3 M498.8 37.5v5.3M498.8 695.5v-5.3 M620.6 37.5v5.3M620.6 695.5v-5.3 M742.4 37.5v5.3M742.4 695.5v-5.3 M32.8 606.0h5.5M824.2 606.0h-5.5 M32.8 484.3h5.5M824.2 484.3h-5.5 M32.8 362.6h5.5M824.2 362.6h-5.5 M32.8 240.9h5.5M824.2 240.9h-5.5 M32.8 119.2h5.5M824.2 119.2h-5.5" stroke="#555" stroke-width="1.3" fill="none"/>
<path d="M32.8 36.7V696.5" stroke="#1a1a1a" stroke-width="2.3"/>
<path d="M824.2 36.7V696.5" stroke="#1a1a1a" stroke-width="2.1"/>
<path d="M31.7 37.45H825.3" stroke="#111" stroke-width="1.5"/>
<path d="M31.7 695.5H825.3" stroke="#1a1a1a" stroke-width="2.0"/>
<rect x="44.5" y="463.4" width="57.2" height="28.2" fill="#0000FF" stroke="#9a9a9a" stroke-width="0.9"/><rect x="44.5" y="501.5" width="57.2" height="28.2" fill="#3860FF" stroke="#9a9a9a" stroke-width="0.9"/><rect x="44.5" y="539.4" width="57.2" height="28.2" fill="#36A8FF" stroke="#9a9a9a" stroke-width="0.9"/><rect x="44.5" y="577.3" width="57.2" height="28.2" fill="#00FFFF" stroke="#9a9a9a" stroke-width="0.9"/><rect x="44.5" y="615.3" width="57.2" height="28.2" fill="#95FEB3" stroke="#9a9a9a" stroke-width="0.9"/><rect x="251.3" y="463.4" width="55.7" height="28.2" fill="#D2FF64" stroke="#9a9a9a" stroke-width="0.9"/><rect x="251.3" y="501.5" width="55.7" height="28.2" fill="#FFFF00" stroke="#9a9a9a" stroke-width="0.9"/><rect x="251.3" y="539.4" width="55.7" height="28.2" fill="#FFB000" stroke="#9a9a9a" stroke-width="0.9"/><rect x="251.3" y="577.3" width="55.7" height="28.2" fill="#FF6E00" stroke="#9a9a9a" stroke-width="0.9"/><rect x="251.3" y="615.3" width="55.7" height="28.2" fill="#FF0000" stroke="#9a9a9a" stroke-width="0.9"/><rect x="39.6" y="653.3" width="37.2" height="18.2" fill="#fff" stroke="#777" stroke-width="1.1"/>
<rect x="280.3" y="653.4" width="37.3" height="17.2" fill="#fff" stroke="#888" stroke-width="1"/><clipPath id="hbc"><rect x="280.3" y="653.4" width="37.3" height="17.2"/></clipPath><path d="M278.3 670.6L295.5 653.4 M285.9 670.6L303.1 653.4 M293.5 670.6L310.7 653.4 M301.1 670.6L318.3 653.4 M308.7 670.6L325.9 653.4 M316.3 670.6L333.5 653.4" stroke="#555" stroke-width="0.9" clip-path="url(#hbc)"/>
<rect x="575.8" y="671.7" width="83.4" height="8.9" fill="#000"/><rect x="659.2" y="672.2" width="81.0" height="7.9" fill="#fff" stroke="#111" stroke-width="1"/>
<path d="M798.3 60.9L789.1 91.7L798.3 81.4Z" fill="#000"/><path d="M798.3 60.9L807.8 91.7L798.3 81.4Z" fill="#fff" stroke="#000" stroke-width="1" stroke-linejoin="miter"/>
<text transform="translate(113.11 31.10) scale(0.9359 1.0067)" font-size="22">80°E</text><text transform="translate(113.19 720.56) scale(0.9321 0.9467)" font-size="22">80°E</text><text transform="translate(234.91 31.10) scale(0.9359 1.0067)" font-size="22">90°E</text><text transform="translate(234.99 720.56) scale(0.9321 0.9467)" font-size="22">90°E</text><text transform="translate(350.98 31.10) scale(0.9359 1.0067)" font-size="22">100°E</text><text transform="translate(351.09 720.56) scale(0.9321 0.9467)" font-size="22">100°E</text><text transform="translate(473.25 31.10) scale(0.9359 1.0067)" font-size="22">110°E</text><text transform="translate(473.35 720.56) scale(0.9321 0.9467)" font-size="22">110°E</text><text transform="translate(594.58 31.10) scale(0.9359 1.0067)" font-size="22">120°E</text><text transform="translate(594.69 720.56) scale(0.9321 0.9467)" font-size="22">120°E</text><text transform="translate(716.38 31.10) scale(0.9359 1.0067)" font-size="22">130°E</text><text transform="translate(716.49 720.56) scale(0.9321 0.9467)" font-size="22">130°E</text><text transform="translate(27.15 628.97) rotate(-90) scale(0.9644 1.0133)" font-size="22">10°N</text><text transform="translate(27.15 506.78) rotate(-90) scale(0.9644 1.0133)" font-size="22">20°N</text><text transform="translate(27.15 385.08) rotate(-90) scale(0.9644 1.0133)" font-size="22">30°N</text><text transform="translate(27.15 263.14) rotate(-90) scale(0.9644 1.0133)" font-size="22">40°N</text><text transform="translate(27.15 141.81) rotate(-90) scale(0.9644 1.0133)" font-size="22">50°N</text><text transform="translate(849.76 628.97) rotate(-90) scale(0.9644 0.9400)" font-size="22">10°N</text><text transform="translate(849.76 506.78) rotate(-90) scale(0.9644 0.9400)" font-size="22">20°N</text><text transform="translate(849.76 385.08) rotate(-90) scale(0.9644 0.9400)" font-size="22">30°N</text><text transform="translate(849.76 263.14) rotate(-90) scale(0.9644 0.9400)" font-size="22">40°N</text><text transform="translate(849.76 141.81) rotate(-90) scale(0.9644 0.9400)" font-size="22">50°N</text><text transform="translate(55.75 448.03) scale(1.0930 1.0597)" style='font-family:"Liberation Serif",serif' font-size="21" font-weight="normal">XCO<tspan font-size="14" dy="4">2ano</tspan><tspan dy="-4">(ppm)</tspan></text><text transform="translate(110.43 485.75) scale(1.0746 0.9965)" style='font-family:"Liberation Serif",serif' font-size="21" font-weight="normal">−1.55 − −0.57</text><text transform="translate(110.41 523.75) scale(1.0862 0.9965)" style='font-family:"Liberation Serif",serif' font-size="21" font-weight="normal">−0.56 − −0.16</text><text transform="translate(110.43 561.75) scale(1.0748 0.9965)" style='font-family:"Liberation Serif",serif' font-size="21" font-weight="normal">−0.15 − 0.14</text><text transform="translate(110.80 599.75) scale(1.0709 0.9965)" style='font-family:"Liberation Serif",serif' font-size="21" font-weight="normal">0.15 − 0.41</text><text transform="translate(110.79 637.75) scale(1.0809 0.9965)" style='font-family:"Liberation Serif",serif' font-size="21" font-weight="normal">0.42 − 0.72</text><text transform="translate(316.79 485.75) scale(1.0812 0.9965)" style='font-family:"Liberation Serif",serif' font-size="21" font-weight="normal">0.73 − 1.08</text><text transform="translate(315.69 523.75) scale(1.0898 0.9965)" style='font-family:"Liberation Serif",serif' font-size="21" font-weight="normal">1.09 − 1.46</text><text transform="translate(315.69 561.75) scale(1.0928 0.9965)" style='font-family:"Liberation Serif",serif' font-size="21" font-weight="normal">1.47 − 1.85</text><text transform="translate(315.69 599.75) scale(1.0928 0.9965)" style='font-family:"Liberation Serif",serif' font-size="21" font-weight="normal">1.86 − 2.28</text><text transform="translate(316.52 637.75) scale(1.0783 0.9965)" style='font-family:"Liberation Serif",serif' font-size="21" font-weight="normal">2.29 − 3.24</text><text transform="translate(83.58 670.45) scale(1.0439 1.0133)" style='font-family:"Liberation Serif",serif' font-size="21" font-weight="normal">National boundaries</text><text transform="translate(324.28 670.26) scale(1.0394 0.9870)" style='font-family:"Liberation Serif",serif' font-size="21" font-weight="normal">Background area</text><text transform="translate(571.01 663.23) scale(1.1875 1.0667)" style='font-family:"Liberation Serif",serif' font-size="19" font-weight="normal">0</text><text transform="translate(643.05 663.23) scale(1.0830 1.0667)" style='font-family:"Liberation Serif",serif' font-size="19" font-weight="normal">750</text><text transform="translate(720.57 663.24) scale(1.0462 1.0593)" style='font-family:"Liberation Serif",serif' font-size="19" font-weight="normal">1500 km</text><text transform="translate(793.51 58.30) scale(1.0323 1.0842)" style='font-family:"Liberation Sans",sans-serif' font-size="14" font-weight="normal">N</text><text transform="translate(359.32 769.90) scale(1.0155 1.0423)" style='font-family:"Liberation Serif",serif' font-size="39" font-weight="normal">(<tspan font-weight="bold">k</tspan>) 2020</text>
</svg>
</body></html>
